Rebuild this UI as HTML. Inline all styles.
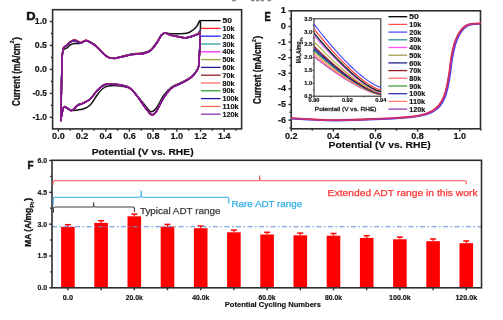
<!DOCTYPE html>
<html><head><meta charset="utf-8"><style>
html,body{margin:0;padding:0;background:#fff;}
svg{display:block;filter:blur(0.3px);}
text{font-family:"Liberation Sans", sans-serif;}
</style></head><body>
<svg width="503" height="320" viewBox="0 0 503 320">
<defs>
<clipPath id="clipD"><rect x="52.6" y="9.7" width="189.0" height="119.2"/></clipPath>
<clipPath id="clipE"><rect x="291.25" y="10.8" width="189.25" height="118.00000000000001"/></clipPath>
<clipPath id="clipI"><rect x="314.0" y="18.8" width="66.80000000000001" height="77.4"/></clipPath>
</defs>
<rect width="503" height="320" fill="#fff"/>
<rect x="52.6" y="9.7" width="189.0" height="119.2" fill="none" stroke="#2e2e2e" stroke-width="1.6"/>
<line x1="58.40" y1="128.90" x2="58.40" y2="131.70" stroke="#2e2e2e" stroke-width="1.4"/>
<text x="58.40" y="139.30" font-size="8.2" font-weight="bold" fill="#111" text-anchor="middle" textLength="12.60" lengthAdjust="spacingAndGlyphs" stroke="#111" stroke-width="0.15">0.0</text>
<line x1="70.24" y1="128.90" x2="70.24" y2="130.70" stroke="#2e2e2e" stroke-width="1.4"/>
<line x1="82.09" y1="128.90" x2="82.09" y2="131.70" stroke="#2e2e2e" stroke-width="1.4"/>
<text x="82.09" y="139.30" font-size="8.2" font-weight="bold" fill="#111" text-anchor="middle" textLength="12.60" lengthAdjust="spacingAndGlyphs" stroke="#111" stroke-width="0.15">0.2</text>
<line x1="93.93" y1="128.90" x2="93.93" y2="130.70" stroke="#2e2e2e" stroke-width="1.4"/>
<line x1="105.77" y1="128.90" x2="105.77" y2="131.70" stroke="#2e2e2e" stroke-width="1.4"/>
<text x="105.77" y="139.30" font-size="8.2" font-weight="bold" fill="#111" text-anchor="middle" textLength="12.60" lengthAdjust="spacingAndGlyphs" stroke="#111" stroke-width="0.15">0.4</text>
<line x1="117.62" y1="128.90" x2="117.62" y2="130.70" stroke="#2e2e2e" stroke-width="1.4"/>
<line x1="129.46" y1="128.90" x2="129.46" y2="131.70" stroke="#2e2e2e" stroke-width="1.4"/>
<text x="129.46" y="139.30" font-size="8.2" font-weight="bold" fill="#111" text-anchor="middle" textLength="12.60" lengthAdjust="spacingAndGlyphs" stroke="#111" stroke-width="0.15">0.6</text>
<line x1="141.30" y1="128.90" x2="141.30" y2="130.70" stroke="#2e2e2e" stroke-width="1.4"/>
<line x1="153.14" y1="128.90" x2="153.14" y2="131.70" stroke="#2e2e2e" stroke-width="1.4"/>
<text x="153.14" y="139.30" font-size="8.2" font-weight="bold" fill="#111" text-anchor="middle" textLength="12.60" lengthAdjust="spacingAndGlyphs" stroke="#111" stroke-width="0.15">0.8</text>
<line x1="164.99" y1="128.90" x2="164.99" y2="130.70" stroke="#2e2e2e" stroke-width="1.4"/>
<line x1="176.83" y1="128.90" x2="176.83" y2="131.70" stroke="#2e2e2e" stroke-width="1.4"/>
<text x="176.83" y="139.30" font-size="8.2" font-weight="bold" fill="#111" text-anchor="middle" textLength="12.60" lengthAdjust="spacingAndGlyphs" stroke="#111" stroke-width="0.15">1.0</text>
<line x1="188.67" y1="128.90" x2="188.67" y2="130.70" stroke="#2e2e2e" stroke-width="1.4"/>
<line x1="200.52" y1="128.90" x2="200.52" y2="131.70" stroke="#2e2e2e" stroke-width="1.4"/>
<text x="200.52" y="139.30" font-size="8.2" font-weight="bold" fill="#111" text-anchor="middle" textLength="12.60" lengthAdjust="spacingAndGlyphs" stroke="#111" stroke-width="0.15">1.2</text>
<line x1="212.36" y1="128.90" x2="212.36" y2="130.70" stroke="#2e2e2e" stroke-width="1.4"/>
<line x1="224.20" y1="128.90" x2="224.20" y2="131.70" stroke="#2e2e2e" stroke-width="1.4"/>
<text x="224.20" y="139.30" font-size="8.2" font-weight="bold" fill="#111" text-anchor="middle" textLength="12.60" lengthAdjust="spacingAndGlyphs" stroke="#111" stroke-width="0.15">1.4</text>
<line x1="236.05" y1="128.90" x2="236.05" y2="130.70" stroke="#2e2e2e" stroke-width="1.4"/>
<line x1="52.60" y1="117.30" x2="49.80" y2="117.30" stroke="#2e2e2e" stroke-width="1.4"/>
<text x="47.00" y="120.20" font-size="8.2" font-weight="bold" fill="#111" text-anchor="end" textLength="14.50" lengthAdjust="spacingAndGlyphs" stroke="#111" stroke-width="0.15">-1.0</text>
<line x1="52.60" y1="105.33" x2="50.80" y2="105.33" stroke="#2e2e2e" stroke-width="1.4"/>
<line x1="52.60" y1="93.35" x2="49.80" y2="93.35" stroke="#2e2e2e" stroke-width="1.4"/>
<text x="47.00" y="96.25" font-size="8.2" font-weight="bold" fill="#111" text-anchor="end" textLength="14.50" lengthAdjust="spacingAndGlyphs" stroke="#111" stroke-width="0.15">-0.5</text>
<line x1="52.60" y1="81.38" x2="50.80" y2="81.38" stroke="#2e2e2e" stroke-width="1.4"/>
<line x1="52.60" y1="69.40" x2="49.80" y2="69.40" stroke="#2e2e2e" stroke-width="1.4"/>
<text x="47.00" y="72.30" font-size="8.2" font-weight="bold" fill="#111" text-anchor="end" textLength="12.20" lengthAdjust="spacingAndGlyphs" stroke="#111" stroke-width="0.15">0.0</text>
<line x1="52.60" y1="57.43" x2="50.80" y2="57.43" stroke="#2e2e2e" stroke-width="1.4"/>
<line x1="52.60" y1="45.45" x2="49.80" y2="45.45" stroke="#2e2e2e" stroke-width="1.4"/>
<text x="47.00" y="48.35" font-size="8.2" font-weight="bold" fill="#111" text-anchor="end" textLength="12.20" lengthAdjust="spacingAndGlyphs" stroke="#111" stroke-width="0.15">0.5</text>
<line x1="52.60" y1="33.48" x2="50.80" y2="33.48" stroke="#2e2e2e" stroke-width="1.4"/>
<line x1="52.60" y1="21.50" x2="49.80" y2="21.50" stroke="#2e2e2e" stroke-width="1.4"/>
<text x="47.00" y="24.40" font-size="8.2" font-weight="bold" fill="#111" text-anchor="end" textLength="12.20" lengthAdjust="spacingAndGlyphs" stroke="#111" stroke-width="0.15">1.0</text>
<text x="91.70" y="154.60" font-size="9.0" font-weight="bold" fill="#111" text-anchor="start" textLength="101.90" lengthAdjust="spacingAndGlyphs" stroke="#111" stroke-width="0.15">Potential (V vs. RHE)</text>
<text x="26.30" y="20.00" font-size="11.4" font-weight="bold" fill="#111" text-anchor="start" textLength="9.30" lengthAdjust="spacingAndGlyphs" stroke="#111" stroke-width="0.5">D</text>
<text transform="translate(19.60,106.00) rotate(-90)" x="0" y="0" font-size="10.2" font-weight="bold" fill="#111" text-anchor="start" textLength="62.60" lengthAdjust="spacingAndGlyphs" stroke="#111" stroke-width="0.3">Current (mA/cm</text>
<text transform="translate(14.40,43.40) rotate(-90)" x="0" y="0" font-size="6.0" font-weight="bold" fill="#111" text-anchor="start" textLength="3.20" lengthAdjust="spacingAndGlyphs" stroke="#111" stroke-width="0.15">2</text>
<text transform="translate(19.60,40.20) rotate(-90)" x="0" y="0" font-size="10.2" font-weight="bold" fill="#111" text-anchor="start" textLength="3.40" lengthAdjust="spacingAndGlyphs" stroke="#111" stroke-width="0.15">)</text>
<line x1="201.00" y1="20.60" x2="220.60" y2="20.60" stroke="#000000" stroke-width="1.3"/>
<text x="222.60" y="23.20" font-size="6.8" font-weight="bold" fill="#111" text-anchor="start" textLength="9.50" lengthAdjust="spacingAndGlyphs" stroke="#111" stroke-width="0.15">50</text>
<line x1="201.00" y1="28.40" x2="220.60" y2="28.40" stroke="#ff2020" stroke-width="1.3"/>
<text x="222.60" y="31.00" font-size="6.8" font-weight="bold" fill="#111" text-anchor="start" textLength="12.00" lengthAdjust="spacingAndGlyphs" stroke="#111" stroke-width="0.15">10k</text>
<line x1="201.00" y1="36.20" x2="220.60" y2="36.20" stroke="#2020ff" stroke-width="1.3"/>
<text x="222.60" y="38.80" font-size="6.8" font-weight="bold" fill="#111" text-anchor="start" textLength="12.00" lengthAdjust="spacingAndGlyphs" stroke="#111" stroke-width="0.15">20k</text>
<line x1="201.00" y1="44.00" x2="220.60" y2="44.00" stroke="#30a0a0" stroke-width="1.3"/>
<text x="222.60" y="46.60" font-size="6.8" font-weight="bold" fill="#111" text-anchor="start" textLength="12.00" lengthAdjust="spacingAndGlyphs" stroke="#111" stroke-width="0.15">30k</text>
<line x1="201.00" y1="51.80" x2="220.60" y2="51.80" stroke="#ff30ff" stroke-width="1.3"/>
<text x="222.60" y="54.40" font-size="6.8" font-weight="bold" fill="#111" text-anchor="start" textLength="12.00" lengthAdjust="spacingAndGlyphs" stroke="#111" stroke-width="0.15">40k</text>
<line x1="201.00" y1="59.60" x2="220.60" y2="59.60" stroke="#a0a040" stroke-width="1.3"/>
<text x="222.60" y="62.20" font-size="6.8" font-weight="bold" fill="#111" text-anchor="start" textLength="12.00" lengthAdjust="spacingAndGlyphs" stroke="#111" stroke-width="0.15">50k</text>
<line x1="201.00" y1="67.40" x2="220.60" y2="67.40" stroke="#202090" stroke-width="1.3"/>
<text x="222.60" y="70.00" font-size="6.8" font-weight="bold" fill="#111" text-anchor="start" textLength="12.00" lengthAdjust="spacingAndGlyphs" stroke="#111" stroke-width="0.15">60k</text>
<line x1="201.00" y1="75.20" x2="220.60" y2="75.20" stroke="#902020" stroke-width="1.3"/>
<text x="222.60" y="77.80" font-size="6.8" font-weight="bold" fill="#111" text-anchor="start" textLength="12.00" lengthAdjust="spacingAndGlyphs" stroke="#111" stroke-width="0.15">70k</text>
<line x1="201.00" y1="83.00" x2="220.60" y2="83.00" stroke="#ff7070" stroke-width="1.3"/>
<text x="222.60" y="85.60" font-size="6.8" font-weight="bold" fill="#111" text-anchor="start" textLength="12.00" lengthAdjust="spacingAndGlyphs" stroke="#111" stroke-width="0.15">80k</text>
<line x1="201.00" y1="90.80" x2="220.60" y2="90.80" stroke="#30a030" stroke-width="1.3"/>
<text x="222.60" y="93.40" font-size="6.8" font-weight="bold" fill="#111" text-anchor="start" textLength="12.00" lengthAdjust="spacingAndGlyphs" stroke="#111" stroke-width="0.15">90k</text>
<line x1="201.00" y1="98.60" x2="220.60" y2="98.60" stroke="#2020a0" stroke-width="1.3"/>
<text x="222.60" y="101.20" font-size="6.8" font-weight="bold" fill="#111" text-anchor="start" textLength="16.00" lengthAdjust="spacingAndGlyphs" stroke="#111" stroke-width="0.15">100k</text>
<line x1="201.00" y1="106.40" x2="220.60" y2="106.40" stroke="#ff7050" stroke-width="1.3"/>
<text x="222.60" y="109.00" font-size="6.8" font-weight="bold" fill="#111" text-anchor="start" textLength="16.00" lengthAdjust="spacingAndGlyphs" stroke="#111" stroke-width="0.15">110k</text>
<line x1="201.00" y1="114.20" x2="220.60" y2="114.20" stroke="#9030b0" stroke-width="1.3"/>
<text x="222.60" y="116.80" font-size="6.8" font-weight="bold" fill="#111" text-anchor="start" textLength="16.00" lengthAdjust="spacingAndGlyphs" stroke="#111" stroke-width="0.15">120k</text>
<g clip-path="url(#clipD)">
<path d="M61.00,118.00 C61.05,115.00 61.18,107.67 61.30,100.00 C61.42,92.33 61.52,79.50 61.70,72.00 C61.88,64.50 62.05,58.75 62.40,55.00 C62.75,51.25 63.03,50.67 63.80,49.50 C64.57,48.33 65.97,48.75 67.00,48.00 C68.03,47.25 68.78,45.75 70.00,45.00 C71.22,44.25 72.97,43.73 74.30,43.50 C75.63,43.27 76.92,43.68 78.00,43.60 C79.08,43.52 79.80,43.35 80.80,43.00 C81.80,42.65 83.10,41.88 84.00,41.50 C84.90,41.12 85.20,40.57 86.20,40.70 C87.20,40.83 88.70,41.62 90.00,42.30 C91.30,42.98 92.83,43.95 94.00,44.80 C95.17,45.65 96.00,46.50 97.00,47.40 C98.00,48.30 98.97,49.17 100.00,50.20 C101.03,51.23 101.87,52.40 103.20,53.60 C104.53,54.80 106.53,56.62 108.00,57.40 C109.47,58.18 110.68,58.17 112.00,58.30 C113.32,58.43 113.90,58.62 115.90,58.20 C117.90,57.78 121.35,56.50 124.00,55.80 C126.65,55.10 129.47,54.40 131.80,54.00 C134.13,53.60 135.88,53.65 138.00,53.40 C140.12,53.15 142.35,53.15 144.50,52.50 C146.65,51.85 148.78,51.33 150.90,49.50 C153.02,47.67 155.48,43.92 157.20,41.50 C158.92,39.08 159.87,36.38 161.20,35.00 C162.53,33.62 163.73,33.43 165.20,33.20 C166.67,32.97 167.62,33.50 170.00,33.60 C172.38,33.70 176.55,33.90 179.50,33.80 C182.45,33.70 185.45,33.63 187.70,33.00 C189.95,32.37 191.45,31.17 193.00,30.00 C194.55,28.83 195.77,27.45 197.00,26.00 C198.23,24.55 199.93,18.13 200.40,21.30 C200.87,24.47 200.03,38.05 199.80,45.00 C199.57,51.95 199.38,59.00 199.00,63.00 C198.62,67.00 198.75,66.75 197.50,69.00 C196.25,71.25 194.17,74.25 191.50,76.50 C188.83,78.75 184.82,80.75 181.50,82.50 C178.18,84.25 174.58,84.83 171.60,87.00 C168.62,89.17 166.08,92.08 163.60,95.50 C161.12,98.92 158.80,104.78 156.70,107.50 C154.60,110.22 153.00,112.22 151.00,111.80 C149.00,111.38 146.90,107.55 144.70,105.00 C142.50,102.45 140.28,99.25 137.80,96.50 C135.32,93.75 132.78,90.25 129.80,88.50 C126.82,86.75 123.47,86.42 119.90,86.00 C116.33,85.58 111.25,85.58 108.40,86.00 C105.55,86.42 104.67,87.00 102.80,88.50 C100.93,90.00 99.30,92.25 97.20,95.00 C95.10,97.75 92.55,102.67 90.20,105.00 C87.85,107.33 85.22,108.17 83.10,109.00 C80.98,109.83 79.13,109.75 77.50,110.00 C75.87,110.25 74.47,110.42 73.30,110.50 C72.13,110.58 71.67,110.95 70.50,110.50 C69.33,110.05 67.37,108.35 66.30,107.80 C65.23,107.25 64.70,106.80 64.10,107.20 C63.50,107.60 63.13,108.73 62.70,110.20 C62.27,111.67 61.78,114.70 61.50,116.00 C61.22,117.30 61.08,117.67 61.00,118.00" fill="none" stroke="#111" stroke-width="1.5" stroke-linejoin="round" stroke-linecap="round" />
<path d="M61.00,120.25 C61.05,116.83 61.18,107.83 61.30,99.75 C61.42,91.67 61.52,79.42 61.70,71.75 C61.88,64.08 62.10,57.75 62.40,53.75 C62.70,49.75 62.82,49.17 63.50,47.75 C64.18,46.33 65.42,46.25 66.50,45.25 C67.58,44.25 68.70,42.70 70.00,41.75 C71.30,40.80 73.00,39.67 74.30,39.55 C75.60,39.43 76.72,40.58 77.80,41.05 C78.88,41.52 79.77,42.40 80.80,42.35 C81.83,42.30 83.10,41.12 84.00,40.75 C84.90,40.38 85.20,39.98 86.20,40.15 C87.20,40.32 88.70,41.08 90.00,41.75 C91.30,42.42 92.83,43.32 94.00,44.15 C95.17,44.98 96.00,45.85 97.00,46.75 C98.00,47.65 98.97,48.50 100.00,49.55 C101.03,50.60 101.87,51.82 103.20,53.05 C104.53,54.28 106.53,56.15 108.00,56.95 C109.47,57.75 110.68,57.72 112.00,57.85 C113.32,57.98 113.90,58.07 115.90,57.75 C117.90,57.43 121.35,56.55 124.00,55.95 C126.65,55.35 129.47,54.53 131.80,54.15 C134.13,53.77 135.88,53.85 138.00,53.65 C140.12,53.45 142.35,53.57 144.50,52.95 C146.65,52.33 148.78,51.77 150.90,49.95 C153.02,48.13 155.48,44.52 157.20,42.05 C158.92,39.58 159.87,36.72 161.20,35.15 C162.53,33.58 163.73,32.73 165.20,32.65 C166.67,32.57 167.62,34.00 170.00,34.65 C172.38,35.30 176.88,36.07 179.50,36.55 C182.12,37.03 183.62,37.65 185.70,37.55 C187.78,37.45 189.95,36.64 192.00,35.95 C194.05,35.26 196.62,34.20 198.00,33.40 C199.38,32.60 200.02,28.76 200.30,31.15 C200.58,33.54 199.93,42.32 199.70,47.75 C199.47,53.18 199.27,60.17 198.90,63.75 C198.53,67.33 198.73,67.08 197.50,69.25 C196.27,71.42 194.17,74.50 191.50,76.75 C188.83,79.00 184.82,80.93 181.50,82.75 C178.18,84.57 174.58,85.17 171.60,87.65 C168.62,90.13 166.08,93.83 163.60,97.65 C161.12,101.47 158.68,107.73 156.70,110.55 C154.72,113.37 153.70,115.22 151.70,114.55 C149.70,113.88 147.02,109.53 144.70,106.55 C142.38,103.57 140.28,99.80 137.80,96.65 C135.32,93.50 132.78,89.65 129.80,87.65 C126.82,85.65 123.47,85.32 119.90,84.65 C116.33,83.98 111.25,83.53 108.40,83.65 C105.55,83.77 104.67,84.25 102.80,85.35 C100.93,86.45 99.30,88.02 97.20,90.25 C95.10,92.48 92.55,96.63 90.20,98.75 C87.85,100.87 85.22,101.90 83.10,102.95 C80.98,104.00 79.13,104.00 77.50,105.05 C75.87,106.10 74.47,108.43 73.30,109.25 C72.13,110.07 71.67,110.30 70.50,109.95 C69.33,109.60 67.37,107.73 66.30,107.15 C65.23,106.57 64.70,105.98 64.10,106.45 C63.50,106.92 63.13,108.40 62.70,109.95 C62.27,111.50 61.78,114.03 61.50,115.75 C61.22,117.47 61.08,119.50 61.00,120.25" fill="none" stroke="#ff1010" stroke-width="1.35" stroke-linejoin="round" stroke-linecap="round" />
<path d="M61.00,120.31 C61.05,116.89 61.18,107.89 61.30,99.81 C61.42,91.73 61.52,79.48 61.70,71.82 C61.88,64.15 62.10,57.82 62.40,53.82 C62.70,49.83 62.82,49.24 63.50,47.84 C64.18,46.45 65.42,46.39 66.50,45.46 C67.58,44.53 68.70,43.10 70.00,42.28 C71.30,41.46 73.00,40.58 74.30,40.54 C75.60,40.50 76.72,41.62 77.80,42.04 C78.88,42.45 79.77,43.19 80.80,43.02 C81.83,42.86 83.10,41.52 84.00,41.07 C84.90,40.62 85.20,40.20 86.20,40.32 C87.20,40.44 88.70,41.17 90.00,41.82 C91.30,42.47 92.83,43.37 94.00,44.20 C95.17,45.03 96.00,45.90 97.00,46.80 C98.00,47.70 98.97,48.55 100.00,49.60 C101.03,50.65 101.87,51.87 103.20,53.10 C104.53,54.33 106.53,56.20 108.00,57.00 C109.47,57.80 110.68,57.77 112.00,57.90 C113.32,58.03 113.90,58.12 115.90,57.80 C117.90,57.48 121.35,56.60 124.00,56.00 C126.65,55.40 129.47,54.58 131.80,54.20 C134.13,53.82 135.88,53.90 138.00,53.70 C140.12,53.50 142.35,53.62 144.50,53.00 C146.65,52.38 148.78,51.82 150.90,50.00 C153.02,48.18 155.48,44.57 157.20,42.10 C158.92,39.63 159.87,36.77 161.20,35.20 C162.53,33.63 163.73,32.78 165.20,32.70 C166.67,32.62 167.62,34.05 170.00,34.70 C172.38,35.35 176.88,36.12 179.50,36.60 C182.12,37.08 183.62,37.70 185.70,37.60 C187.78,37.50 189.95,36.68 192.00,36.00 C194.05,35.32 196.62,34.25 198.00,33.50 C199.38,32.75 200.02,29.12 200.30,31.50 C200.58,33.88 199.93,42.42 199.70,47.80 C199.47,53.18 199.27,60.22 198.90,63.80 C198.53,67.38 198.73,67.13 197.50,69.30 C196.27,71.47 194.17,74.55 191.50,76.80 C188.83,79.05 184.82,80.98 181.50,82.80 C178.18,84.62 174.58,85.22 171.60,87.70 C168.62,90.18 166.08,93.88 163.60,97.70 C161.12,101.52 158.68,107.78 156.70,110.60 C154.72,113.42 153.70,115.27 151.70,114.60 C149.70,113.93 147.02,109.58 144.70,106.60 C142.38,103.62 140.28,99.85 137.80,96.70 C135.32,93.55 132.78,89.70 129.80,87.70 C126.82,85.70 123.47,85.37 119.90,84.70 C116.33,84.03 111.25,83.58 108.40,83.70 C105.55,83.82 104.67,84.30 102.80,85.40 C100.93,86.50 99.30,88.07 97.20,90.30 C95.10,92.53 92.55,96.68 90.20,98.80 C87.85,100.92 85.22,101.95 83.10,103.00 C80.98,104.05 79.13,104.05 77.50,105.10 C75.87,106.15 74.47,108.48 73.30,109.30 C72.13,110.12 71.67,110.35 70.50,110.00 C69.33,109.65 67.37,107.78 66.30,107.20 C65.23,106.62 64.70,106.03 64.10,106.50 C63.50,106.97 63.13,108.45 62.70,110.00 C62.27,111.55 61.78,114.08 61.50,115.80 C61.22,117.52 61.08,119.55 61.00,120.30" fill="none" stroke="#1010ff" stroke-width="1.35" stroke-linejoin="round" stroke-linecap="round" />
<path d="M61.00,120.36 C61.05,116.95 61.18,107.95 61.30,99.87 C61.42,91.78 61.52,79.53 61.70,71.87 C61.88,64.21 62.10,57.87 62.40,53.88 C62.70,49.89 62.82,49.29 63.50,47.90 C64.18,46.52 65.42,46.46 66.50,45.56 C67.58,44.65 68.70,43.25 70.00,42.47 C71.30,41.69 73.00,40.89 74.30,40.88 C75.60,40.86 76.72,41.97 77.80,42.37 C78.88,42.76 79.77,43.46 80.80,43.26 C81.83,43.07 83.10,41.68 84.00,41.20 C84.90,40.73 85.20,40.29 86.20,40.41 C87.20,40.52 88.70,41.23 90.00,41.87 C91.30,42.51 92.83,43.42 94.00,44.25 C95.17,45.08 96.00,45.95 97.00,46.85 C98.00,47.75 98.97,48.60 100.00,49.65 C101.03,50.70 101.87,51.92 103.20,53.15 C104.53,54.38 106.53,56.25 108.00,57.05 C109.47,57.85 110.68,57.82 112.00,57.95 C113.32,58.08 113.90,58.17 115.90,57.85 C117.90,57.53 121.35,56.65 124.00,56.05 C126.65,55.45 129.47,54.63 131.80,54.25 C134.13,53.87 135.88,53.95 138.00,53.75 C140.12,53.55 142.35,53.67 144.50,53.05 C146.65,52.43 148.78,51.87 150.90,50.05 C153.02,48.23 155.48,44.62 157.20,42.15 C158.92,39.68 159.87,36.82 161.20,35.25 C162.53,33.68 163.73,32.83 165.20,32.75 C166.67,32.67 167.62,34.10 170.00,34.75 C172.38,35.40 176.88,36.17 179.50,36.65 C182.12,37.13 183.62,37.75 185.70,37.65 C187.78,37.55 189.95,36.73 192.00,36.05 C194.05,35.38 196.62,34.30 198.00,33.60 C199.38,32.90 200.02,29.48 200.30,31.85 C200.58,34.23 199.93,42.52 199.70,47.85 C199.47,53.18 199.27,60.27 198.90,63.85 C198.53,67.43 198.73,67.18 197.50,69.35 C196.27,71.52 194.17,74.60 191.50,76.85 C188.83,79.10 184.82,81.03 181.50,82.85 C178.18,84.67 174.58,85.27 171.60,87.75 C168.62,90.23 166.08,93.93 163.60,97.75 C161.12,101.57 158.68,107.83 156.70,110.65 C154.72,113.47 153.70,115.32 151.70,114.65 C149.70,113.98 147.02,109.63 144.70,106.65 C142.38,103.67 140.28,99.90 137.80,96.75 C135.32,93.60 132.78,89.75 129.80,87.75 C126.82,85.75 123.47,85.42 119.90,84.75 C116.33,84.08 111.25,83.63 108.40,83.75 C105.55,83.87 104.67,84.35 102.80,85.45 C100.93,86.55 99.30,88.12 97.20,90.35 C95.10,92.58 92.55,96.73 90.20,98.85 C87.85,100.97 85.22,102.00 83.10,103.05 C80.98,104.10 79.13,104.10 77.50,105.15 C75.87,106.20 74.47,108.53 73.30,109.35 C72.13,110.17 71.67,110.40 70.50,110.05 C69.33,109.70 67.37,107.83 66.30,107.25 C65.23,106.67 64.70,106.08 64.10,106.55 C63.50,107.02 63.13,108.50 62.70,110.05 C62.27,111.60 61.78,114.13 61.50,115.85 C61.22,117.57 61.08,119.60 61.00,120.35" fill="none" stroke="#209090" stroke-width="1.35" stroke-linejoin="round" stroke-linecap="round" />
<path d="M61.00,120.40 C61.05,116.98 61.18,107.98 61.30,99.90 C61.42,91.82 61.52,79.57 61.70,71.90 C61.88,64.23 62.10,57.90 62.40,53.90 C62.70,49.90 62.82,49.32 63.50,47.90 C64.18,46.48 65.42,46.40 66.50,45.40 C67.58,44.40 68.70,42.85 70.00,41.90 C71.30,40.95 73.00,39.82 74.30,39.70 C75.60,39.58 76.72,40.73 77.80,41.20 C78.88,41.67 79.77,42.55 80.80,42.50 C81.83,42.45 83.10,41.27 84.00,40.90 C84.90,40.53 85.20,40.13 86.20,40.30 C87.20,40.47 88.70,41.23 90.00,41.90 C91.30,42.57 92.83,43.47 94.00,44.30 C95.17,45.13 96.00,46.00 97.00,46.90 C98.00,47.80 98.97,48.65 100.00,49.70 C101.03,50.75 101.87,51.97 103.20,53.20 C104.53,54.43 106.53,56.30 108.00,57.10 C109.47,57.90 110.68,57.87 112.00,58.00 C113.32,58.13 113.90,58.22 115.90,57.90 C117.90,57.58 121.35,56.70 124.00,56.10 C126.65,55.50 129.47,54.68 131.80,54.30 C134.13,53.92 135.88,54.00 138.00,53.80 C140.12,53.60 142.35,53.72 144.50,53.10 C146.65,52.48 148.78,51.92 150.90,50.10 C153.02,48.28 155.48,44.67 157.20,42.20 C158.92,39.73 159.87,36.87 161.20,35.30 C162.53,33.73 163.73,32.88 165.20,32.80 C166.67,32.72 167.62,34.15 170.00,34.80 C172.38,35.45 176.88,36.22 179.50,36.70 C182.12,37.18 183.62,37.80 185.70,37.70 C187.78,37.60 189.95,36.77 192.00,36.10 C194.05,35.43 196.62,34.35 198.00,33.70 C199.38,33.05 200.02,29.83 200.30,32.20 C200.58,34.57 199.93,42.62 199.70,47.90 C199.47,53.18 199.27,60.32 198.90,63.90 C198.53,67.48 198.73,67.23 197.50,69.40 C196.27,71.57 194.17,74.65 191.50,76.90 C188.83,79.15 184.82,81.08 181.50,82.90 C178.18,84.72 174.58,85.32 171.60,87.80 C168.62,90.28 166.08,93.98 163.60,97.80 C161.12,101.62 158.68,107.88 156.70,110.70 C154.72,113.52 153.70,115.37 151.70,114.70 C149.70,114.03 147.02,109.68 144.70,106.70 C142.38,103.72 140.28,99.95 137.80,96.80 C135.32,93.65 132.78,89.80 129.80,87.80 C126.82,85.80 123.47,85.47 119.90,84.80 C116.33,84.13 111.25,83.68 108.40,83.80 C105.55,83.92 104.67,84.40 102.80,85.50 C100.93,86.60 99.30,88.17 97.20,90.40 C95.10,92.63 92.55,96.78 90.20,98.90 C87.85,101.02 85.22,102.05 83.10,103.10 C80.98,104.15 79.13,104.15 77.50,105.20 C75.87,106.25 74.47,108.58 73.30,109.40 C72.13,110.22 71.67,110.45 70.50,110.10 C69.33,109.75 67.37,107.88 66.30,107.30 C65.23,106.72 64.70,106.13 64.10,106.60 C63.50,107.07 63.13,108.55 62.70,110.10 C62.27,111.65 61.78,114.18 61.50,115.90 C61.22,117.62 61.08,119.65 61.00,120.40" fill="none" stroke="#ff20ff" stroke-width="1.35" stroke-linejoin="round" stroke-linecap="round" />
<path d="M61.00,120.45 C61.05,117.03 61.18,108.03 61.30,99.95 C61.42,91.87 61.52,79.62 61.70,71.95 C61.88,64.28 62.10,57.95 62.40,53.95 C62.70,49.95 62.82,49.37 63.50,47.95 C64.18,46.53 65.42,46.45 66.50,45.45 C67.58,44.45 68.70,42.90 70.00,41.95 C71.30,41.00 73.00,39.87 74.30,39.75 C75.60,39.63 76.72,40.78 77.80,41.25 C78.88,41.72 79.77,42.60 80.80,42.55 C81.83,42.50 83.10,41.32 84.00,40.95 C84.90,40.58 85.20,40.18 86.20,40.35 C87.20,40.52 88.70,41.28 90.00,41.95 C91.30,42.62 92.83,43.52 94.00,44.35 C95.17,45.18 96.00,46.05 97.00,46.95 C98.00,47.85 98.97,48.70 100.00,49.75 C101.03,50.80 101.87,52.02 103.20,53.25 C104.53,54.48 106.53,56.35 108.00,57.15 C109.47,57.95 110.68,57.92 112.00,58.05 C113.32,58.18 113.90,58.27 115.90,57.95 C117.90,57.63 121.35,56.75 124.00,56.15 C126.65,55.55 129.47,54.73 131.80,54.35 C134.13,53.97 135.88,54.05 138.00,53.85 C140.12,53.65 142.35,53.77 144.50,53.15 C146.65,52.53 148.78,51.97 150.90,50.15 C153.02,48.33 155.48,44.72 157.20,42.25 C158.92,39.78 159.87,36.92 161.20,35.35 C162.53,33.78 163.73,32.93 165.20,32.85 C166.67,32.77 167.62,34.20 170.00,34.85 C172.38,35.50 176.88,36.27 179.50,36.75 C182.12,37.23 183.62,37.85 185.70,37.75 C187.78,37.65 189.95,36.81 192.00,36.15 C194.05,35.49 196.62,34.40 198.00,33.80 C199.38,33.20 200.02,30.19 200.30,32.55 C200.58,34.91 199.93,42.72 199.70,47.95 C199.47,53.18 199.27,60.37 198.90,63.95 C198.53,67.53 198.73,67.28 197.50,69.45 C196.27,71.62 194.17,74.70 191.50,76.95 C188.83,79.20 184.82,81.13 181.50,82.95 C178.18,84.77 174.58,85.37 171.60,87.85 C168.62,90.33 166.08,94.03 163.60,97.85 C161.12,101.67 158.68,107.93 156.70,110.75 C154.72,113.57 153.70,115.42 151.70,114.75 C149.70,114.08 147.02,109.73 144.70,106.75 C142.38,103.77 140.28,100.00 137.80,96.85 C135.32,93.70 132.78,89.85 129.80,87.85 C126.82,85.85 123.47,85.52 119.90,84.85 C116.33,84.18 111.25,83.73 108.40,83.85 C105.55,83.97 104.67,84.45 102.80,85.55 C100.93,86.65 99.30,88.22 97.20,90.45 C95.10,92.68 92.55,96.83 90.20,98.95 C87.85,101.07 85.22,102.10 83.10,103.15 C80.98,104.20 79.13,104.20 77.50,105.25 C75.87,106.30 74.47,108.63 73.30,109.45 C72.13,110.27 71.67,110.50 70.50,110.15 C69.33,109.80 67.37,107.93 66.30,107.35 C65.23,106.77 64.70,106.18 64.10,106.65 C63.50,107.12 63.13,108.60 62.70,110.15 C62.27,111.70 61.78,114.23 61.50,115.95 C61.22,117.67 61.08,119.70 61.00,120.45" fill="none" stroke="#909020" stroke-width="1.35" stroke-linejoin="round" stroke-linecap="round" />
<path d="M61.00,120.51 C61.05,117.09 61.18,108.09 61.30,100.01 C61.42,91.93 61.52,79.68 61.70,72.01 C61.88,64.35 62.10,58.01 62.40,54.02 C62.70,50.02 62.82,49.43 63.50,48.03 C64.18,46.63 65.42,46.57 66.50,45.63 C67.58,44.69 68.70,43.23 70.00,42.38 C71.30,41.54 73.00,40.61 74.30,40.55 C75.60,40.50 76.72,41.62 77.80,42.05 C78.88,42.47 79.77,43.24 80.80,43.10 C81.83,42.96 83.10,41.65 84.00,41.22 C84.90,40.78 85.20,40.36 86.20,40.50 C87.20,40.63 88.70,41.36 90.00,42.01 C91.30,42.67 92.83,43.57 94.00,44.40 C95.17,45.23 96.00,46.10 97.00,47.00 C98.00,47.90 98.97,48.75 100.00,49.80 C101.03,50.85 101.87,52.07 103.20,53.30 C104.53,54.53 106.53,56.40 108.00,57.20 C109.47,58.00 110.68,57.97 112.00,58.10 C113.32,58.23 113.90,58.32 115.90,58.00 C117.90,57.68 121.35,56.80 124.00,56.20 C126.65,55.60 129.47,54.78 131.80,54.40 C134.13,54.02 135.88,54.10 138.00,53.90 C140.12,53.70 142.35,53.82 144.50,53.20 C146.65,52.58 148.78,52.02 150.90,50.20 C153.02,48.38 155.48,44.77 157.20,42.30 C158.92,39.83 159.87,36.97 161.20,35.40 C162.53,33.83 163.73,32.98 165.20,32.90 C166.67,32.82 167.62,34.25 170.00,34.90 C172.38,35.55 176.88,36.32 179.50,36.80 C182.12,37.28 183.62,37.90 185.70,37.80 C187.78,37.70 189.95,36.85 192.00,36.20 C194.05,35.55 196.62,34.45 198.00,33.90 C199.38,33.35 200.02,30.55 200.30,32.90 C200.58,35.25 199.93,42.82 199.70,48.00 C199.47,53.18 199.27,60.42 198.90,64.00 C198.53,67.58 198.73,67.33 197.50,69.50 C196.27,71.67 194.17,74.75 191.50,77.00 C188.83,79.25 184.82,81.18 181.50,83.00 C178.18,84.82 174.58,85.42 171.60,87.90 C168.62,90.38 166.08,94.08 163.60,97.90 C161.12,101.72 158.68,107.98 156.70,110.80 C154.72,113.62 153.70,115.47 151.70,114.80 C149.70,114.13 147.02,109.78 144.70,106.80 C142.38,103.82 140.28,100.05 137.80,96.90 C135.32,93.75 132.78,89.90 129.80,87.90 C126.82,85.90 123.47,85.57 119.90,84.90 C116.33,84.23 111.25,83.78 108.40,83.90 C105.55,84.02 104.67,84.50 102.80,85.60 C100.93,86.70 99.30,88.27 97.20,90.50 C95.10,92.73 92.55,96.88 90.20,99.00 C87.85,101.12 85.22,102.15 83.10,103.20 C80.98,104.25 79.13,104.25 77.50,105.30 C75.87,106.35 74.47,108.68 73.30,109.50 C72.13,110.32 71.67,110.55 70.50,110.20 C69.33,109.85 67.37,107.98 66.30,107.40 C65.23,106.82 64.70,106.23 64.10,106.70 C63.50,107.17 63.13,108.65 62.70,110.20 C62.27,111.75 61.78,114.28 61.50,116.00 C61.22,117.72 61.08,119.75 61.00,120.50" fill="none" stroke="#101080" stroke-width="1.35" stroke-linejoin="round" stroke-linecap="round" />
<path d="M61.00,120.55 C61.05,117.13 61.18,108.13 61.30,100.05 C61.42,91.97 61.52,79.72 61.70,72.05 C61.88,64.38 62.10,58.05 62.40,54.05 C62.70,50.05 62.82,49.47 63.50,48.05 C64.18,46.63 65.42,46.55 66.50,45.55 C67.58,44.55 68.70,43.00 70.00,42.05 C71.30,41.10 73.00,39.97 74.30,39.85 C75.60,39.73 76.72,40.88 77.80,41.35 C78.88,41.82 79.77,42.70 80.80,42.65 C81.83,42.60 83.10,41.42 84.00,41.05 C84.90,40.68 85.20,40.28 86.20,40.45 C87.20,40.62 88.70,41.38 90.00,42.05 C91.30,42.72 92.83,43.62 94.00,44.45 C95.17,45.28 96.00,46.15 97.00,47.05 C98.00,47.95 98.97,48.80 100.00,49.85 C101.03,50.90 101.87,52.12 103.20,53.35 C104.53,54.58 106.53,56.45 108.00,57.25 C109.47,58.05 110.68,58.02 112.00,58.15 C113.32,58.28 113.90,58.37 115.90,58.05 C117.90,57.73 121.35,56.85 124.00,56.25 C126.65,55.65 129.47,54.83 131.80,54.45 C134.13,54.07 135.88,54.15 138.00,53.95 C140.12,53.75 142.35,53.87 144.50,53.25 C146.65,52.63 148.78,52.07 150.90,50.25 C153.02,48.43 155.48,44.82 157.20,42.35 C158.92,39.88 159.87,37.02 161.20,35.45 C162.53,33.88 163.73,33.03 165.20,32.95 C166.67,32.87 167.62,34.30 170.00,34.95 C172.38,35.60 176.88,36.37 179.50,36.85 C182.12,37.33 183.62,37.95 185.70,37.85 C187.78,37.75 189.95,36.89 192.00,36.25 C194.05,35.61 196.62,34.50 198.00,34.00 C199.38,33.50 200.02,30.91 200.30,33.25 C200.58,35.59 199.93,42.92 199.70,48.05 C199.47,53.18 199.27,60.47 198.90,64.05 C198.53,67.63 198.73,67.38 197.50,69.55 C196.27,71.72 194.17,74.80 191.50,77.05 C188.83,79.30 184.82,81.23 181.50,83.05 C178.18,84.87 174.58,85.47 171.60,87.95 C168.62,90.43 166.08,94.13 163.60,97.95 C161.12,101.77 158.68,108.03 156.70,110.85 C154.72,113.67 153.70,115.52 151.70,114.85 C149.70,114.18 147.02,109.83 144.70,106.85 C142.38,103.87 140.28,100.10 137.80,96.95 C135.32,93.80 132.78,89.95 129.80,87.95 C126.82,85.95 123.47,85.62 119.90,84.95 C116.33,84.28 111.25,83.83 108.40,83.95 C105.55,84.07 104.67,84.55 102.80,85.65 C100.93,86.75 99.30,88.32 97.20,90.55 C95.10,92.78 92.55,96.93 90.20,99.05 C87.85,101.17 85.22,102.20 83.10,103.25 C80.98,104.30 79.13,104.30 77.50,105.35 C75.87,106.40 74.47,108.73 73.30,109.55 C72.13,110.37 71.67,110.60 70.50,110.25 C69.33,109.90 67.37,108.03 66.30,107.45 C65.23,106.87 64.70,106.28 64.10,106.75 C63.50,107.22 63.13,108.70 62.70,110.25 C62.27,111.80 61.78,114.33 61.50,116.05 C61.22,117.77 61.08,119.80 61.00,120.55" fill="none" stroke="#801010" stroke-width="1.35" stroke-linejoin="round" stroke-linecap="round" />
<path d="M61.00,120.60 C61.05,117.18 61.18,108.18 61.30,100.10 C61.42,92.02 61.52,79.77 61.70,72.10 C61.88,64.43 62.10,58.10 62.40,54.10 C62.70,50.10 62.82,49.52 63.50,48.10 C64.18,46.68 65.42,46.60 66.50,45.60 C67.58,44.60 68.70,43.05 70.00,42.10 C71.30,41.15 73.00,40.02 74.30,39.90 C75.60,39.78 76.72,40.93 77.80,41.40 C78.88,41.87 79.77,42.75 80.80,42.70 C81.83,42.65 83.10,41.47 84.00,41.10 C84.90,40.73 85.20,40.33 86.20,40.50 C87.20,40.67 88.70,41.43 90.00,42.10 C91.30,42.77 92.83,43.67 94.00,44.50 C95.17,45.33 96.00,46.20 97.00,47.10 C98.00,48.00 98.97,48.85 100.00,49.90 C101.03,50.95 101.87,52.17 103.20,53.40 C104.53,54.63 106.53,56.50 108.00,57.30 C109.47,58.10 110.68,58.07 112.00,58.20 C113.32,58.33 113.90,58.42 115.90,58.10 C117.90,57.78 121.35,56.90 124.00,56.30 C126.65,55.70 129.47,54.88 131.80,54.50 C134.13,54.12 135.88,54.20 138.00,54.00 C140.12,53.80 142.35,53.92 144.50,53.30 C146.65,52.68 148.78,52.12 150.90,50.30 C153.02,48.48 155.48,44.87 157.20,42.40 C158.92,39.93 159.87,37.07 161.20,35.50 C162.53,33.93 163.73,33.08 165.20,33.00 C166.67,32.92 167.62,34.35 170.00,35.00 C172.38,35.65 176.88,36.42 179.50,36.90 C182.12,37.38 183.62,38.00 185.70,37.90 C187.78,37.80 189.95,36.93 192.00,36.30 C194.05,35.67 196.62,34.55 198.00,34.10 C199.38,33.65 200.02,31.27 200.30,33.60 C200.58,35.93 199.93,43.02 199.70,48.10 C199.47,53.18 199.27,60.52 198.90,64.10 C198.53,67.68 198.73,67.43 197.50,69.60 C196.27,71.77 194.17,74.85 191.50,77.10 C188.83,79.35 184.82,81.28 181.50,83.10 C178.18,84.92 174.58,85.52 171.60,88.00 C168.62,90.48 166.08,94.18 163.60,98.00 C161.12,101.82 158.68,108.08 156.70,110.90 C154.72,113.72 153.70,115.57 151.70,114.90 C149.70,114.23 147.02,109.88 144.70,106.90 C142.38,103.92 140.28,100.15 137.80,97.00 C135.32,93.85 132.78,90.00 129.80,88.00 C126.82,86.00 123.47,85.67 119.90,85.00 C116.33,84.33 111.25,83.88 108.40,84.00 C105.55,84.12 104.67,84.60 102.80,85.70 C100.93,86.80 99.30,88.37 97.20,90.60 C95.10,92.83 92.55,96.98 90.20,99.10 C87.85,101.22 85.22,102.25 83.10,103.30 C80.98,104.35 79.13,104.35 77.50,105.40 C75.87,106.45 74.47,108.78 73.30,109.60 C72.13,110.42 71.67,110.65 70.50,110.30 C69.33,109.95 67.37,108.08 66.30,107.50 C65.23,106.92 64.70,106.33 64.10,106.80 C63.50,107.27 63.13,108.75 62.70,110.30 C62.27,111.85 61.78,114.38 61.50,116.10 C61.22,117.82 61.08,119.85 61.00,120.60" fill="none" stroke="#ff5070" stroke-width="1.35" stroke-linejoin="round" stroke-linecap="round" />
<path d="M61.00,120.65 C61.05,117.23 61.18,108.23 61.30,100.15 C61.42,92.07 61.52,79.82 61.70,72.15 C61.88,64.48 62.10,58.15 62.40,54.15 C62.70,50.15 62.82,49.57 63.50,48.15 C64.18,46.73 65.42,46.65 66.50,45.65 C67.58,44.65 68.70,43.10 70.00,42.15 C71.30,41.20 73.00,40.07 74.30,39.95 C75.60,39.83 76.72,40.98 77.80,41.45 C78.88,41.92 79.77,42.80 80.80,42.75 C81.83,42.70 83.10,41.52 84.00,41.15 C84.90,40.78 85.20,40.38 86.20,40.55 C87.20,40.72 88.70,41.48 90.00,42.15 C91.30,42.82 92.83,43.72 94.00,44.55 C95.17,45.38 96.00,46.25 97.00,47.15 C98.00,48.05 98.97,48.90 100.00,49.95 C101.03,51.00 101.87,52.22 103.20,53.45 C104.53,54.68 106.53,56.55 108.00,57.35 C109.47,58.15 110.68,58.12 112.00,58.25 C113.32,58.38 113.90,58.47 115.90,58.15 C117.90,57.83 121.35,56.95 124.00,56.35 C126.65,55.75 129.47,54.93 131.80,54.55 C134.13,54.17 135.88,54.25 138.00,54.05 C140.12,53.85 142.35,53.97 144.50,53.35 C146.65,52.73 148.78,52.17 150.90,50.35 C153.02,48.53 155.48,44.92 157.20,42.45 C158.92,39.98 159.87,37.12 161.20,35.55 C162.53,33.98 163.73,33.13 165.20,33.05 C166.67,32.97 167.62,34.40 170.00,35.05 C172.38,35.70 176.88,36.47 179.50,36.95 C182.12,37.43 183.62,38.05 185.70,37.95 C187.78,37.85 189.95,36.98 192.00,36.35 C194.05,35.73 196.62,34.60 198.00,34.20 C199.38,33.80 200.02,31.63 200.30,33.95 C200.58,36.28 199.93,43.12 199.70,48.15 C199.47,53.18 199.27,60.57 198.90,64.15 C198.53,67.73 198.73,67.48 197.50,69.65 C196.27,71.82 194.17,74.90 191.50,77.15 C188.83,79.40 184.82,81.33 181.50,83.15 C178.18,84.97 174.58,85.57 171.60,88.05 C168.62,90.53 166.08,94.23 163.60,98.05 C161.12,101.87 158.68,108.13 156.70,110.95 C154.72,113.77 153.70,115.62 151.70,114.95 C149.70,114.28 147.02,109.93 144.70,106.95 C142.38,103.97 140.28,100.20 137.80,97.05 C135.32,93.90 132.78,90.05 129.80,88.05 C126.82,86.05 123.47,85.72 119.90,85.05 C116.33,84.38 111.25,83.93 108.40,84.05 C105.55,84.17 104.67,84.65 102.80,85.75 C100.93,86.85 99.30,88.42 97.20,90.65 C95.10,92.88 92.55,97.03 90.20,99.15 C87.85,101.27 85.22,102.30 83.10,103.35 C80.98,104.40 79.13,104.40 77.50,105.45 C75.87,106.50 74.47,108.83 73.30,109.65 C72.13,110.47 71.67,110.70 70.50,110.35 C69.33,110.00 67.37,108.13 66.30,107.55 C65.23,106.97 64.70,106.38 64.10,106.85 C63.50,107.32 63.13,108.80 62.70,110.35 C62.27,111.90 61.78,114.43 61.50,116.15 C61.22,117.87 61.08,119.90 61.00,120.65" fill="none" stroke="#209020" stroke-width="1.35" stroke-linejoin="round" stroke-linecap="round" />
<path d="M61.00,120.71 C61.05,117.29 61.18,108.29 61.30,100.21 C61.42,92.12 61.52,79.87 61.70,72.21 C61.88,64.54 62.10,58.21 62.40,54.21 C62.70,50.22 62.82,49.63 63.50,48.22 C64.18,46.82 65.42,46.75 66.50,45.80 C67.58,44.84 68.70,43.36 70.00,42.49 C71.30,41.62 73.00,40.64 74.30,40.57 C75.60,40.49 76.72,41.63 77.80,42.06 C78.88,42.50 79.77,43.29 80.80,43.17 C81.83,43.06 83.10,41.78 84.00,41.36 C84.90,40.95 85.20,40.53 86.20,40.67 C87.20,40.81 88.70,41.56 90.00,42.21 C91.30,42.87 92.83,43.77 94.00,44.60 C95.17,45.43 96.00,46.30 97.00,47.20 C98.00,48.10 98.97,48.95 100.00,50.00 C101.03,51.05 101.87,52.27 103.20,53.50 C104.53,54.73 106.53,56.60 108.00,57.40 C109.47,58.20 110.68,58.17 112.00,58.30 C113.32,58.43 113.90,58.52 115.90,58.20 C117.90,57.88 121.35,57.00 124.00,56.40 C126.65,55.80 129.47,54.98 131.80,54.60 C134.13,54.22 135.88,54.30 138.00,54.10 C140.12,53.90 142.35,54.02 144.50,53.40 C146.65,52.78 148.78,52.22 150.90,50.40 C153.02,48.58 155.48,44.97 157.20,42.50 C158.92,40.03 159.87,37.17 161.20,35.60 C162.53,34.03 163.73,33.18 165.20,33.10 C166.67,33.02 167.62,34.45 170.00,35.10 C172.38,35.75 176.88,36.52 179.50,37.00 C182.12,37.48 183.62,38.10 185.70,38.00 C187.78,37.90 189.95,37.02 192.00,36.40 C194.05,35.78 196.62,34.65 198.00,34.30 C199.38,33.95 200.02,31.98 200.30,34.30 C200.58,36.62 199.93,43.22 199.70,48.20 C199.47,53.18 199.27,60.62 198.90,64.20 C198.53,67.78 198.73,67.53 197.50,69.70 C196.27,71.87 194.17,74.95 191.50,77.20 C188.83,79.45 184.82,81.38 181.50,83.20 C178.18,85.02 174.58,85.62 171.60,88.10 C168.62,90.58 166.08,94.28 163.60,98.10 C161.12,101.92 158.68,108.18 156.70,111.00 C154.72,113.82 153.70,115.67 151.70,115.00 C149.70,114.33 147.02,109.98 144.70,107.00 C142.38,104.02 140.28,100.25 137.80,97.10 C135.32,93.95 132.78,90.10 129.80,88.10 C126.82,86.10 123.47,85.77 119.90,85.10 C116.33,84.43 111.25,83.98 108.40,84.10 C105.55,84.22 104.67,84.70 102.80,85.80 C100.93,86.90 99.30,88.47 97.20,90.70 C95.10,92.93 92.55,97.08 90.20,99.20 C87.85,101.32 85.22,102.35 83.10,103.40 C80.98,104.45 79.13,104.45 77.50,105.50 C75.87,106.55 74.47,108.88 73.30,109.70 C72.13,110.52 71.67,110.75 70.50,110.40 C69.33,110.05 67.37,108.18 66.30,107.60 C65.23,107.02 64.70,106.43 64.10,106.90 C63.50,107.37 63.13,108.85 62.70,110.40 C62.27,111.95 61.78,114.48 61.50,116.20 C61.22,117.92 61.08,119.95 61.00,120.70" fill="none" stroke="#2010a0" stroke-width="1.35" stroke-linejoin="round" stroke-linecap="round" />
<path d="M61.00,120.75 C61.05,117.33 61.18,108.33 61.30,100.25 C61.42,92.17 61.52,79.92 61.70,72.25 C61.88,64.58 62.10,58.25 62.40,54.25 C62.70,50.25 62.82,49.67 63.50,48.25 C64.18,46.83 65.42,46.75 66.50,45.75 C67.58,44.75 68.70,43.20 70.00,42.25 C71.30,41.30 73.00,40.17 74.30,40.05 C75.60,39.93 76.72,41.08 77.80,41.55 C78.88,42.02 79.77,42.90 80.80,42.85 C81.83,42.80 83.10,41.62 84.00,41.25 C84.90,40.88 85.20,40.48 86.20,40.65 C87.20,40.82 88.70,41.58 90.00,42.25 C91.30,42.92 92.83,43.82 94.00,44.65 C95.17,45.48 96.00,46.35 97.00,47.25 C98.00,48.15 98.97,49.00 100.00,50.05 C101.03,51.10 101.87,52.32 103.20,53.55 C104.53,54.78 106.53,56.65 108.00,57.45 C109.47,58.25 110.68,58.22 112.00,58.35 C113.32,58.48 113.90,58.57 115.90,58.25 C117.90,57.93 121.35,57.05 124.00,56.45 C126.65,55.85 129.47,55.03 131.80,54.65 C134.13,54.27 135.88,54.35 138.00,54.15 C140.12,53.95 142.35,54.07 144.50,53.45 C146.65,52.83 148.78,52.27 150.90,50.45 C153.02,48.63 155.48,45.02 157.20,42.55 C158.92,40.08 159.87,37.22 161.20,35.65 C162.53,34.08 163.73,33.23 165.20,33.15 C166.67,33.07 167.62,34.50 170.00,35.15 C172.38,35.80 176.88,36.57 179.50,37.05 C182.12,37.53 183.62,38.15 185.70,38.05 C187.78,37.95 189.95,37.06 192.00,36.45 C194.05,35.84 196.62,34.70 198.00,34.40 C199.38,34.10 200.02,32.34 200.30,34.65 C200.58,36.96 199.93,43.32 199.70,48.25 C199.47,53.18 199.27,60.67 198.90,64.25 C198.53,67.83 198.73,67.58 197.50,69.75 C196.27,71.92 194.17,75.00 191.50,77.25 C188.83,79.50 184.82,81.43 181.50,83.25 C178.18,85.07 174.58,85.67 171.60,88.15 C168.62,90.63 166.08,94.33 163.60,98.15 C161.12,101.97 158.68,108.23 156.70,111.05 C154.72,113.87 153.70,115.72 151.70,115.05 C149.70,114.38 147.02,110.03 144.70,107.05 C142.38,104.07 140.28,100.30 137.80,97.15 C135.32,94.00 132.78,90.15 129.80,88.15 C126.82,86.15 123.47,85.82 119.90,85.15 C116.33,84.48 111.25,84.03 108.40,84.15 C105.55,84.27 104.67,84.75 102.80,85.85 C100.93,86.95 99.30,88.52 97.20,90.75 C95.10,92.98 92.55,97.13 90.20,99.25 C87.85,101.37 85.22,102.40 83.10,103.45 C80.98,104.50 79.13,104.50 77.50,105.55 C75.87,106.60 74.47,108.93 73.30,109.75 C72.13,110.57 71.67,110.80 70.50,110.45 C69.33,110.10 67.37,108.23 66.30,107.65 C65.23,107.07 64.70,106.48 64.10,106.95 C63.50,107.42 63.13,108.90 62.70,110.45 C62.27,112.00 61.78,114.53 61.50,116.25 C61.22,117.97 61.08,120.00 61.00,120.75" fill="none" stroke="#ff3060" stroke-width="1.35" stroke-linejoin="round" stroke-linecap="round" />
<path d="M61.00,120.80 C61.05,117.38 61.18,108.38 61.30,100.30 C61.42,92.22 61.52,79.97 61.70,72.30 C61.88,64.63 62.10,58.30 62.40,54.30 C62.70,50.30 62.82,49.72 63.50,48.30 C64.18,46.88 65.42,46.80 66.50,45.80 C67.58,44.80 68.70,43.25 70.00,42.30 C71.30,41.35 73.00,40.22 74.30,40.10 C75.60,39.98 76.72,41.13 77.80,41.60 C78.88,42.07 79.77,42.95 80.80,42.90 C81.83,42.85 83.10,41.67 84.00,41.30 C84.90,40.93 85.20,40.53 86.20,40.70 C87.20,40.87 88.70,41.63 90.00,42.30 C91.30,42.97 92.83,43.87 94.00,44.70 C95.17,45.53 96.00,46.40 97.00,47.30 C98.00,48.20 98.97,49.05 100.00,50.10 C101.03,51.15 101.87,52.37 103.20,53.60 C104.53,54.83 106.53,56.70 108.00,57.50 C109.47,58.30 110.68,58.27 112.00,58.40 C113.32,58.53 113.90,58.62 115.90,58.30 C117.90,57.98 121.35,57.10 124.00,56.50 C126.65,55.90 129.47,55.08 131.80,54.70 C134.13,54.32 135.88,54.40 138.00,54.20 C140.12,54.00 142.35,54.12 144.50,53.50 C146.65,52.88 148.78,52.32 150.90,50.50 C153.02,48.68 155.48,45.07 157.20,42.60 C158.92,40.13 159.87,37.27 161.20,35.70 C162.53,34.13 163.73,33.28 165.20,33.20 C166.67,33.12 167.62,34.55 170.00,35.20 C172.38,35.85 176.88,36.62 179.50,37.10 C182.12,37.58 183.62,38.20 185.70,38.10 C187.78,38.00 189.95,37.10 192.00,36.50 C194.05,35.90 196.62,34.75 198.00,34.50 C199.38,34.25 200.02,32.70 200.30,35.00 C200.58,37.30 199.93,43.42 199.70,48.30 C199.47,53.18 199.27,60.72 198.90,64.30 C198.53,67.88 198.73,67.63 197.50,69.80 C196.27,71.97 194.17,75.05 191.50,77.30 C188.83,79.55 184.82,81.48 181.50,83.30 C178.18,85.12 174.58,85.72 171.60,88.20 C168.62,90.68 166.08,94.38 163.60,98.20 C161.12,102.02 158.68,108.28 156.70,111.10 C154.72,113.92 153.70,115.77 151.70,115.10 C149.70,114.43 147.02,110.08 144.70,107.10 C142.38,104.12 140.28,100.35 137.80,97.20 C135.32,94.05 132.78,90.20 129.80,88.20 C126.82,86.20 123.47,85.87 119.90,85.20 C116.33,84.53 111.25,84.08 108.40,84.20 C105.55,84.32 104.67,84.80 102.80,85.90 C100.93,87.00 99.30,88.57 97.20,90.80 C95.10,93.03 92.55,97.18 90.20,99.30 C87.85,101.42 85.22,102.45 83.10,103.50 C80.98,104.55 79.13,104.55 77.50,105.60 C75.87,106.65 74.47,108.98 73.30,109.80 C72.13,110.62 71.67,110.85 70.50,110.50 C69.33,110.15 67.37,108.28 66.30,107.70 C65.23,107.12 64.70,106.53 64.10,107.00 C63.50,107.47 63.13,108.95 62.70,110.50 C62.27,112.05 61.78,114.58 61.50,116.30 C61.22,118.02 61.08,120.05 61.00,120.80" fill="none" stroke="#7a10a0" stroke-width="1.35" stroke-linejoin="round" stroke-linecap="round" />
</g>
<rect x="291.25" y="10.8" width="189.25" height="118.00000000000001" fill="none" stroke="#2e2e2e" stroke-width="1.6"/>
<line x1="291.25" y1="128.80" x2="291.25" y2="131.60" stroke="#2e2e2e" stroke-width="1.4"/>
<text x="291.25" y="138.60" font-size="8.2" font-weight="bold" fill="#111" text-anchor="middle" textLength="12.60" lengthAdjust="spacingAndGlyphs" stroke="#111" stroke-width="0.15">0.2</text>
<line x1="312.31" y1="128.80" x2="312.31" y2="130.60" stroke="#2e2e2e" stroke-width="1.4"/>
<line x1="333.37" y1="128.80" x2="333.37" y2="131.60" stroke="#2e2e2e" stroke-width="1.4"/>
<text x="333.37" y="138.60" font-size="8.2" font-weight="bold" fill="#111" text-anchor="middle" textLength="12.60" lengthAdjust="spacingAndGlyphs" stroke="#111" stroke-width="0.15">0.4</text>
<line x1="354.43" y1="128.80" x2="354.43" y2="130.60" stroke="#2e2e2e" stroke-width="1.4"/>
<line x1="375.49" y1="128.80" x2="375.49" y2="131.60" stroke="#2e2e2e" stroke-width="1.4"/>
<text x="375.49" y="138.60" font-size="8.2" font-weight="bold" fill="#111" text-anchor="middle" textLength="12.60" lengthAdjust="spacingAndGlyphs" stroke="#111" stroke-width="0.15">0.6</text>
<line x1="396.55" y1="128.80" x2="396.55" y2="130.60" stroke="#2e2e2e" stroke-width="1.4"/>
<line x1="417.61" y1="128.80" x2="417.61" y2="131.60" stroke="#2e2e2e" stroke-width="1.4"/>
<text x="417.61" y="138.60" font-size="8.2" font-weight="bold" fill="#111" text-anchor="middle" textLength="12.60" lengthAdjust="spacingAndGlyphs" stroke="#111" stroke-width="0.15">0.8</text>
<line x1="438.67" y1="128.80" x2="438.67" y2="130.60" stroke="#2e2e2e" stroke-width="1.4"/>
<line x1="459.73" y1="128.80" x2="459.73" y2="131.60" stroke="#2e2e2e" stroke-width="1.4"/>
<text x="459.73" y="138.60" font-size="8.2" font-weight="bold" fill="#111" text-anchor="middle" textLength="12.60" lengthAdjust="spacingAndGlyphs" stroke="#111" stroke-width="0.15">1.0</text>
<line x1="480.79" y1="128.80" x2="480.79" y2="130.60" stroke="#2e2e2e" stroke-width="1.4"/>
<line x1="291.25" y1="10.90" x2="288.45" y2="10.90" stroke="#2e2e2e" stroke-width="1.4"/>
<text x="286.00" y="13.40" font-size="8.5" font-weight="bold" fill="#111" text-anchor="end" textLength="5.20" lengthAdjust="spacingAndGlyphs" stroke="#111" stroke-width="0.15">1</text>
<line x1="291.25" y1="18.70" x2="289.45" y2="18.70" stroke="#2e2e2e" stroke-width="1.4"/>
<line x1="291.25" y1="26.50" x2="288.45" y2="26.50" stroke="#2e2e2e" stroke-width="1.4"/>
<text x="286.00" y="29.00" font-size="8.5" font-weight="bold" fill="#111" text-anchor="end" textLength="5.20" lengthAdjust="spacingAndGlyphs" stroke="#111" stroke-width="0.15">0</text>
<line x1="291.25" y1="34.30" x2="289.45" y2="34.30" stroke="#2e2e2e" stroke-width="1.4"/>
<line x1="291.25" y1="42.10" x2="288.45" y2="42.10" stroke="#2e2e2e" stroke-width="1.4"/>
<text x="286.00" y="44.60" font-size="8.5" font-weight="bold" fill="#111" text-anchor="end" textLength="8.00" lengthAdjust="spacingAndGlyphs" stroke="#111" stroke-width="0.15">-1</text>
<line x1="291.25" y1="49.90" x2="289.45" y2="49.90" stroke="#2e2e2e" stroke-width="1.4"/>
<line x1="291.25" y1="57.70" x2="288.45" y2="57.70" stroke="#2e2e2e" stroke-width="1.4"/>
<text x="286.00" y="60.20" font-size="8.5" font-weight="bold" fill="#111" text-anchor="end" textLength="8.00" lengthAdjust="spacingAndGlyphs" stroke="#111" stroke-width="0.15">-2</text>
<line x1="291.25" y1="65.50" x2="289.45" y2="65.50" stroke="#2e2e2e" stroke-width="1.4"/>
<line x1="291.25" y1="73.30" x2="288.45" y2="73.30" stroke="#2e2e2e" stroke-width="1.4"/>
<text x="286.00" y="75.80" font-size="8.5" font-weight="bold" fill="#111" text-anchor="end" textLength="8.00" lengthAdjust="spacingAndGlyphs" stroke="#111" stroke-width="0.15">-3</text>
<line x1="291.25" y1="81.10" x2="289.45" y2="81.10" stroke="#2e2e2e" stroke-width="1.4"/>
<line x1="291.25" y1="88.90" x2="288.45" y2="88.90" stroke="#2e2e2e" stroke-width="1.4"/>
<text x="286.00" y="91.40" font-size="8.5" font-weight="bold" fill="#111" text-anchor="end" textLength="8.00" lengthAdjust="spacingAndGlyphs" stroke="#111" stroke-width="0.15">-4</text>
<line x1="291.25" y1="96.70" x2="289.45" y2="96.70" stroke="#2e2e2e" stroke-width="1.4"/>
<line x1="291.25" y1="104.50" x2="288.45" y2="104.50" stroke="#2e2e2e" stroke-width="1.4"/>
<text x="286.00" y="107.00" font-size="8.5" font-weight="bold" fill="#111" text-anchor="end" textLength="8.00" lengthAdjust="spacingAndGlyphs" stroke="#111" stroke-width="0.15">-5</text>
<line x1="291.25" y1="112.30" x2="289.45" y2="112.30" stroke="#2e2e2e" stroke-width="1.4"/>
<line x1="291.25" y1="120.10" x2="288.45" y2="120.10" stroke="#2e2e2e" stroke-width="1.4"/>
<text x="286.00" y="122.60" font-size="8.5" font-weight="bold" fill="#111" text-anchor="end" textLength="8.00" lengthAdjust="spacingAndGlyphs" stroke="#111" stroke-width="0.15">-6</text>
<line x1="291.25" y1="127.90" x2="289.45" y2="127.90" stroke="#2e2e2e" stroke-width="1.4"/>
<text x="328.60" y="148.00" font-size="9.2" font-weight="bold" fill="#111" text-anchor="start" textLength="102.20" lengthAdjust="spacingAndGlyphs" stroke="#111" stroke-width="0.15">Potential (V vs. RHE)</text>
<text x="264.40" y="20.50" font-size="12.0" font-weight="bold" fill="#111" text-anchor="start" textLength="6.30" lengthAdjust="spacingAndGlyphs" stroke="#111" stroke-width="0.5">E</text>
<text transform="translate(261.00,104.00) rotate(-90)" x="0" y="0" font-size="10.2" font-weight="bold" fill="#111" text-anchor="start" textLength="61.80" lengthAdjust="spacingAndGlyphs" stroke="#111" stroke-width="0.3">Current (mA/cm</text>
<text transform="translate(255.80,42.20) rotate(-90)" x="0" y="0" font-size="6.0" font-weight="bold" fill="#111" text-anchor="start" textLength="3.20" lengthAdjust="spacingAndGlyphs" stroke="#111" stroke-width="0.15">2</text>
<text transform="translate(261.00,39.00) rotate(-90)" x="0" y="0" font-size="10.2" font-weight="bold" fill="#111" text-anchor="start" textLength="3.40" lengthAdjust="spacingAndGlyphs" stroke="#111" stroke-width="0.15">)</text>
<line x1="388.40" y1="16.70" x2="407.20" y2="16.70" stroke="#000000" stroke-width="1.3"/>
<text x="409.20" y="19.30" font-size="6.8" font-weight="bold" fill="#111" text-anchor="start" textLength="9.50" lengthAdjust="spacingAndGlyphs" stroke="#111" stroke-width="0.15">50</text>
<line x1="388.40" y1="24.40" x2="407.20" y2="24.40" stroke="#ff5050" stroke-width="1.3"/>
<text x="409.20" y="27.00" font-size="6.8" font-weight="bold" fill="#111" text-anchor="start" textLength="12.00" lengthAdjust="spacingAndGlyphs" stroke="#111" stroke-width="0.15">10k</text>
<line x1="388.40" y1="32.10" x2="407.20" y2="32.10" stroke="#5050ff" stroke-width="1.3"/>
<text x="409.20" y="34.70" font-size="6.8" font-weight="bold" fill="#111" text-anchor="start" textLength="12.00" lengthAdjust="spacingAndGlyphs" stroke="#111" stroke-width="0.15">20k</text>
<line x1="388.40" y1="39.80" x2="407.20" y2="39.80" stroke="#309090" stroke-width="1.3"/>
<text x="409.20" y="42.40" font-size="6.8" font-weight="bold" fill="#111" text-anchor="start" textLength="12.00" lengthAdjust="spacingAndGlyphs" stroke="#111" stroke-width="0.15">30k</text>
<line x1="388.40" y1="47.50" x2="407.20" y2="47.50" stroke="#ff50ff" stroke-width="1.3"/>
<text x="409.20" y="50.10" font-size="6.8" font-weight="bold" fill="#111" text-anchor="start" textLength="12.00" lengthAdjust="spacingAndGlyphs" stroke="#111" stroke-width="0.15">40k</text>
<line x1="388.40" y1="55.20" x2="407.20" y2="55.20" stroke="#a0a050" stroke-width="1.3"/>
<text x="409.20" y="57.80" font-size="6.8" font-weight="bold" fill="#111" text-anchor="start" textLength="12.00" lengthAdjust="spacingAndGlyphs" stroke="#111" stroke-width="0.15">50k</text>
<line x1="388.40" y1="62.90" x2="407.20" y2="62.90" stroke="#202090" stroke-width="1.3"/>
<text x="409.20" y="65.50" font-size="6.8" font-weight="bold" fill="#111" text-anchor="start" textLength="12.00" lengthAdjust="spacingAndGlyphs" stroke="#111" stroke-width="0.15">60k</text>
<line x1="388.40" y1="70.60" x2="407.20" y2="70.60" stroke="#902020" stroke-width="1.3"/>
<text x="409.20" y="73.20" font-size="6.8" font-weight="bold" fill="#111" text-anchor="start" textLength="12.00" lengthAdjust="spacingAndGlyphs" stroke="#111" stroke-width="0.15">70k</text>
<line x1="388.40" y1="78.30" x2="407.20" y2="78.30" stroke="#ff7070" stroke-width="1.3"/>
<text x="409.20" y="80.90" font-size="6.8" font-weight="bold" fill="#111" text-anchor="start" textLength="12.00" lengthAdjust="spacingAndGlyphs" stroke="#111" stroke-width="0.15">80k</text>
<line x1="388.40" y1="86.00" x2="407.20" y2="86.00" stroke="#40a040" stroke-width="1.3"/>
<text x="409.20" y="88.60" font-size="6.8" font-weight="bold" fill="#111" text-anchor="start" textLength="12.00" lengthAdjust="spacingAndGlyphs" stroke="#111" stroke-width="0.15">90k</text>
<line x1="388.40" y1="93.70" x2="407.20" y2="93.70" stroke="#3030b0" stroke-width="1.3"/>
<text x="409.20" y="96.30" font-size="6.8" font-weight="bold" fill="#111" text-anchor="start" textLength="16.00" lengthAdjust="spacingAndGlyphs" stroke="#111" stroke-width="0.15">100k</text>
<line x1="388.40" y1="101.40" x2="407.20" y2="101.40" stroke="#ff8070" stroke-width="1.3"/>
<text x="409.20" y="104.00" font-size="6.8" font-weight="bold" fill="#111" text-anchor="start" textLength="16.00" lengthAdjust="spacingAndGlyphs" stroke="#111" stroke-width="0.15">110k</text>
<line x1="388.40" y1="109.10" x2="407.20" y2="109.10" stroke="#9040b0" stroke-width="1.3"/>
<text x="409.20" y="111.70" font-size="6.8" font-weight="bold" fill="#111" text-anchor="start" textLength="16.00" lengthAdjust="spacingAndGlyphs" stroke="#111" stroke-width="0.15">120k</text>
<g clip-path="url(#clipE)">
<path d="M291.77,118.70 C294.85,118.88 303.19,119.47 310.27,119.80 C317.35,120.13 324.69,120.70 334.27,120.70 C343.85,120.70 357.94,120.13 367.77,119.80 C377.60,119.47 385.67,119.15 393.27,118.70 C400.87,118.25 408.03,117.73 413.37,117.10 C418.71,116.47 421.91,115.83 425.30,114.90 C428.69,113.97 431.20,113.02 433.70,111.50 C436.20,109.98 438.42,108.15 440.30,105.80 C442.18,103.45 443.75,100.37 445.00,97.40 C446.25,94.43 446.92,91.82 447.80,88.00 C448.68,84.18 449.53,79.42 450.30,74.50 C451.07,69.58 451.55,63.47 452.40,58.50 C453.25,53.53 454.25,48.57 455.40,44.70 C456.55,40.83 457.95,37.88 459.30,35.30 C460.65,32.72 461.93,30.85 463.50,29.20 C465.07,27.55 466.79,26.23 468.70,25.40 C470.61,24.57 472.88,24.42 474.97,24.20 C477.06,23.98 480.22,24.12 481.27,24.10" fill="none" stroke="#4040ff" stroke-width="1.4" stroke-linejoin="round" stroke-linecap="round" />
<path d="M291.35,117.90 C294.43,118.08 302.77,118.67 309.85,119.00 C316.93,119.33 324.27,119.90 333.85,119.90 C343.43,119.90 357.52,119.33 367.35,119.00 C377.18,118.67 385.25,118.35 392.85,117.90 C400.45,117.45 407.78,116.93 412.95,116.30 C418.13,115.67 420.67,115.03 423.90,114.10 C427.12,113.17 429.80,112.22 432.30,110.70 C434.80,109.18 437.02,107.35 438.90,105.00 C440.78,102.65 442.35,99.57 443.60,96.60 C444.85,93.63 445.52,91.02 446.40,87.20 C447.28,83.38 448.13,78.62 448.90,73.70 C449.67,68.78 450.15,62.67 451.00,57.70 C451.85,52.73 452.85,47.77 454.00,43.90 C455.15,40.03 456.55,37.08 457.90,34.50 C459.25,31.92 460.53,30.05 462.10,28.40 C463.67,26.75 465.23,25.43 467.30,24.60 C469.38,23.77 472.29,23.62 474.55,23.40 C476.81,23.18 479.80,23.32 480.85,23.30" fill="none" stroke="#ff3030" stroke-width="1.4" stroke-linejoin="round" stroke-linecap="round" />
<path d="M291.50,118.20 C294.58,118.38 302.92,118.97 310.00,119.30 C317.08,119.63 324.42,120.20 334.00,120.20 C343.58,120.20 357.67,119.63 367.50,119.30 C377.33,118.97 385.40,118.65 393.00,118.20 C400.60,117.75 407.87,117.23 413.10,116.60 C418.33,115.97 421.12,115.33 424.40,114.40 C427.68,113.47 430.30,112.52 432.80,111.00 C435.30,109.48 437.52,107.65 439.40,105.30 C441.28,102.95 442.85,99.87 444.10,96.90 C445.35,93.93 446.02,91.32 446.90,87.50 C447.78,83.68 448.63,78.92 449.40,74.00 C450.17,69.08 450.65,62.97 451.50,58.00 C452.35,53.03 453.35,48.07 454.50,44.20 C455.65,40.33 457.05,37.38 458.40,34.80 C459.75,32.22 461.03,30.35 462.60,28.70 C464.17,27.05 465.78,25.73 467.80,24.90 C469.82,24.07 472.50,23.92 474.70,23.70 C476.90,23.48 479.95,23.62 481.00,23.60" fill="none" stroke="#8030a0" stroke-width="1.4" stroke-linejoin="round" stroke-linecap="round" />
<path d="M291.44,118.40 C294.52,118.58 302.86,119.17 309.94,119.50 C317.02,119.83 324.36,120.40 333.94,120.40 C343.52,120.40 357.61,119.83 367.44,119.50 C377.27,119.17 385.34,118.85 392.94,118.40 C400.54,117.95 407.83,117.43 413.04,116.80 C418.25,116.17 420.94,115.53 424.20,114.60 C427.46,113.67 430.10,112.72 432.60,111.20 C435.10,109.68 437.32,107.85 439.20,105.50 C441.08,103.15 442.65,100.07 443.90,97.10 C445.15,94.13 445.82,91.52 446.70,87.70 C447.58,83.88 448.43,79.12 449.20,74.20 C449.97,69.28 450.45,63.17 451.30,58.20 C452.15,53.23 453.15,48.27 454.30,44.40 C455.45,40.53 456.85,37.58 458.20,35.00 C459.55,32.42 460.83,30.55 462.40,28.90 C463.97,27.25 465.56,25.93 467.60,25.10 C469.64,24.27 472.42,24.12 474.64,23.90 C476.86,23.68 479.89,23.82 480.94,23.80" fill="none" stroke="#d03070" stroke-width="1.4" stroke-linejoin="round" stroke-linecap="round" />
</g>
<rect x="314.0" y="18.8" width="66.80000000000001" height="77.4" fill="#fff" stroke="#2e2e2e" stroke-width="1.1"/>
<line x1="314.00" y1="96.20" x2="314.00" y2="98.00" stroke="#2e2e2e" stroke-width="0.8"/>
<text x="314.00" y="102.30" font-size="5.0" font-weight="bold" fill="#111" text-anchor="middle" textLength="11.00" lengthAdjust="spacingAndGlyphs" stroke="#111" stroke-width="0.15">0.90</text>
<line x1="330.70" y1="96.20" x2="330.70" y2="97.40" stroke="#2e2e2e" stroke-width="0.8"/>
<line x1="347.40" y1="96.20" x2="347.40" y2="98.00" stroke="#2e2e2e" stroke-width="0.8"/>
<text x="347.40" y="102.30" font-size="5.0" font-weight="bold" fill="#111" text-anchor="middle" textLength="11.00" lengthAdjust="spacingAndGlyphs" stroke="#111" stroke-width="0.15">0.92</text>
<line x1="364.10" y1="96.20" x2="364.10" y2="97.40" stroke="#2e2e2e" stroke-width="0.8"/>
<line x1="380.80" y1="96.20" x2="380.80" y2="98.00" stroke="#2e2e2e" stroke-width="0.8"/>
<text x="380.80" y="102.30" font-size="5.0" font-weight="bold" fill="#111" text-anchor="middle" textLength="11.00" lengthAdjust="spacingAndGlyphs" stroke="#111" stroke-width="0.15">0.94</text>
<line x1="314.00" y1="96.20" x2="312.20" y2="96.20" stroke="#2e2e2e" stroke-width="0.8"/>
<text x="312.20" y="98.00" font-size="5.0" font-weight="bold" fill="#111" text-anchor="end" textLength="8.00" lengthAdjust="spacingAndGlyphs" stroke="#111" stroke-width="0.15">0.5</text>
<line x1="314.00" y1="89.75" x2="312.80" y2="89.75" stroke="#2e2e2e" stroke-width="0.8"/>
<line x1="314.00" y1="83.30" x2="312.20" y2="83.30" stroke="#2e2e2e" stroke-width="0.8"/>
<text x="312.20" y="85.10" font-size="5.0" font-weight="bold" fill="#111" text-anchor="end" textLength="8.00" lengthAdjust="spacingAndGlyphs" stroke="#111" stroke-width="0.15">1.0</text>
<line x1="314.00" y1="76.85" x2="312.80" y2="76.85" stroke="#2e2e2e" stroke-width="0.8"/>
<line x1="314.00" y1="70.40" x2="312.20" y2="70.40" stroke="#2e2e2e" stroke-width="0.8"/>
<text x="312.20" y="72.20" font-size="5.0" font-weight="bold" fill="#111" text-anchor="end" textLength="8.00" lengthAdjust="spacingAndGlyphs" stroke="#111" stroke-width="0.15">1.5</text>
<line x1="314.00" y1="63.95" x2="312.80" y2="63.95" stroke="#2e2e2e" stroke-width="0.8"/>
<line x1="314.00" y1="57.50" x2="312.20" y2="57.50" stroke="#2e2e2e" stroke-width="0.8"/>
<text x="312.20" y="59.30" font-size="5.0" font-weight="bold" fill="#111" text-anchor="end" textLength="8.00" lengthAdjust="spacingAndGlyphs" stroke="#111" stroke-width="0.15">2.0</text>
<line x1="314.00" y1="51.05" x2="312.80" y2="51.05" stroke="#2e2e2e" stroke-width="0.8"/>
<line x1="314.00" y1="44.60" x2="312.20" y2="44.60" stroke="#2e2e2e" stroke-width="0.8"/>
<text x="312.20" y="46.40" font-size="5.0" font-weight="bold" fill="#111" text-anchor="end" textLength="8.00" lengthAdjust="spacingAndGlyphs" stroke="#111" stroke-width="0.15">2.5</text>
<line x1="314.00" y1="38.15" x2="312.80" y2="38.15" stroke="#2e2e2e" stroke-width="0.8"/>
<line x1="314.00" y1="31.70" x2="312.20" y2="31.70" stroke="#2e2e2e" stroke-width="0.8"/>
<text x="312.20" y="33.50" font-size="5.0" font-weight="bold" fill="#111" text-anchor="end" textLength="8.00" lengthAdjust="spacingAndGlyphs" stroke="#111" stroke-width="0.15">3.0</text>
<line x1="314.00" y1="25.25" x2="312.80" y2="25.25" stroke="#2e2e2e" stroke-width="0.8"/>
<line x1="314.00" y1="18.80" x2="312.20" y2="18.80" stroke="#2e2e2e" stroke-width="0.8"/>
<text x="312.20" y="20.60" font-size="5.0" font-weight="bold" fill="#111" text-anchor="end" textLength="8.00" lengthAdjust="spacingAndGlyphs" stroke="#111" stroke-width="0.15">3.5</text>
<text x="314.80" y="111.20" font-size="5.8" font-weight="normal" fill="#222" text-anchor="start" textLength="61.70" lengthAdjust="spacingAndGlyphs" stroke="#222" stroke-width="0.3">Potentail (V vs. RHE)</text>
<text transform="translate(300.70,63.30) rotate(-90)" x="0" y="0" font-size="6.6" font-weight="bold" fill="#111" text-anchor="start" textLength="21.80" lengthAdjust="spacingAndGlyphs" stroke="#111" stroke-width="0.15">MA,A/mg</text>
<text transform="translate(303.00,41.40) rotate(-90)" x="0" y="0" font-size="4.2" font-weight="bold" fill="#111" text-anchor="start" textLength="4.00" lengthAdjust="spacingAndGlyphs" stroke="#111" stroke-width="0.15">Pt</text>
<g clip-path="url(#clipI)">
<path d="M314.00,56.73 C314.56,57.16 316.23,58.47 317.34,59.34 C318.45,60.20 319.57,61.05 320.68,61.89 C321.79,62.74 322.91,63.57 324.02,64.40 C325.13,65.22 326.25,66.04 327.36,66.85 C328.47,67.65 329.59,68.45 330.70,69.24 C331.81,70.02 332.93,70.80 334.04,71.57 C335.15,72.34 336.27,73.09 337.38,73.84 C338.49,74.58 339.61,75.32 340.72,76.04 C341.83,76.76 342.95,77.48 344.06,78.18 C345.17,78.88 346.29,79.56 347.40,80.24 C348.51,80.91 349.63,81.58 350.74,82.22 C351.85,82.87 352.97,83.51 354.08,84.13 C355.19,84.75 356.31,85.35 357.42,85.94 C358.53,86.53 359.65,87.11 360.76,87.66 C361.87,88.22 362.99,88.76 364.10,89.27 C365.21,89.79 366.33,90.29 367.44,90.77 C368.55,91.24 369.67,91.70 370.78,92.12 C371.89,92.55 373.01,92.96 374.12,93.32 C375.23,93.68 376.35,94.03 377.46,94.30 C378.57,94.56 380.24,94.81 380.80,94.91" fill="none" stroke="#a040c0" stroke-width="1.1" stroke-linejoin="round" stroke-linecap="round" />
<path d="M314.00,55.44 C314.56,55.89 316.23,57.24 317.34,58.13 C318.45,59.02 319.57,59.91 320.68,60.78 C321.79,61.65 322.91,62.51 324.02,63.37 C325.13,64.22 326.25,65.06 327.36,65.90 C328.47,66.73 329.59,67.56 330.70,68.37 C331.81,69.18 332.93,69.99 334.04,70.78 C335.15,71.57 336.27,72.36 337.38,73.13 C338.49,73.90 339.61,74.66 340.72,75.40 C341.83,76.15 342.95,76.89 344.06,77.61 C345.17,78.33 346.29,79.05 347.40,79.74 C348.51,80.44 349.63,81.13 350.74,81.80 C351.85,82.47 352.97,83.12 354.08,83.76 C355.19,84.40 356.31,85.03 357.42,85.64 C358.53,86.25 359.65,86.84 360.76,87.42 C361.87,87.99 362.99,88.55 364.10,89.08 C365.21,89.62 366.33,90.14 367.44,90.63 C368.55,91.12 369.67,91.59 370.78,92.03 C371.89,92.47 373.01,92.89 374.12,93.26 C375.23,93.64 376.35,94.00 377.46,94.28 C378.57,94.55 380.24,94.80 380.80,94.91" fill="none" stroke="#ff7080" stroke-width="1.1" stroke-linejoin="round" stroke-linecap="round" />
<path d="M314.00,53.11 C314.56,53.59 316.23,55.02 317.34,55.95 C318.45,56.89 319.57,57.82 320.68,58.73 C321.79,59.65 322.91,60.56 324.02,61.46 C325.13,62.36 326.25,63.25 327.36,64.12 C328.47,65.00 329.59,65.87 330.70,66.72 C331.81,67.58 332.93,68.43 334.04,69.26 C335.15,70.10 336.27,70.92 337.38,71.73 C338.49,72.54 339.61,73.34 340.72,74.13 C341.83,74.91 342.95,75.69 344.06,76.45 C345.17,77.21 346.29,77.96 347.40,78.69 C348.51,79.43 349.63,80.15 350.74,80.85 C351.85,81.56 352.97,82.25 354.08,82.92 C355.19,83.60 356.31,84.26 357.42,84.90 C358.53,85.54 359.65,86.16 360.76,86.77 C361.87,87.37 362.99,87.96 364.10,88.52 C365.21,89.08 366.33,89.63 367.44,90.15 C368.55,90.66 369.67,91.16 370.78,91.62 C371.89,92.08 373.01,92.53 374.12,92.92 C375.23,93.31 376.35,93.70 377.46,93.99 C378.57,94.28 380.24,94.54 380.80,94.65" fill="none" stroke="#ff9070" stroke-width="1.1" stroke-linejoin="round" stroke-linecap="round" />
<path d="M314.00,50.79 C314.56,51.29 316.23,52.79 317.34,53.77 C318.45,54.76 319.57,55.73 320.68,56.69 C321.79,57.66 322.91,58.61 324.02,59.55 C325.13,60.49 326.25,61.43 327.36,62.35 C328.47,63.27 329.59,64.18 330.70,65.08 C331.81,65.98 332.93,66.87 334.04,67.74 C335.15,68.62 336.27,69.48 337.38,70.33 C338.49,71.18 339.61,72.02 340.72,72.85 C341.83,73.67 342.95,74.49 344.06,75.29 C345.17,76.09 346.29,76.87 347.40,77.64 C348.51,78.41 349.63,79.17 350.74,79.91 C351.85,80.65 352.97,81.37 354.08,82.08 C355.19,82.79 356.31,83.48 357.42,84.15 C358.53,84.83 359.65,85.48 360.76,86.12 C361.87,86.75 362.99,87.37 364.10,87.96 C365.21,88.55 366.33,89.12 367.44,89.66 C368.55,90.21 369.67,90.73 370.78,91.21 C371.89,91.70 373.01,92.16 374.12,92.58 C375.23,92.99 376.35,93.39 377.46,93.70 C378.57,94.00 380.24,94.28 380.80,94.39" fill="none" stroke="#30a030" stroke-width="1.1" stroke-linejoin="round" stroke-linecap="round" />
<path d="M314.00,49.24 C314.56,49.76 316.23,51.30 317.34,52.31 C318.45,53.32 319.57,54.33 320.68,55.32 C321.79,56.31 322.91,57.29 324.02,58.26 C325.13,59.23 326.25,60.19 327.36,61.14 C328.47,62.09 329.59,63.03 330.70,63.95 C331.81,64.88 332.93,65.79 334.04,66.69 C335.15,67.60 336.27,68.49 337.38,69.36 C338.49,70.24 339.61,71.10 340.72,71.95 C341.83,72.80 342.95,73.64 344.06,74.46 C345.17,75.29 346.29,76.09 347.40,76.89 C348.51,77.68 349.63,78.46 350.74,79.22 C351.85,79.98 352.97,80.73 354.08,81.46 C355.19,82.19 356.31,82.90 357.42,83.59 C358.53,84.28 359.65,84.96 360.76,85.61 C361.87,86.27 362.99,86.90 364.10,87.51 C365.21,88.12 366.33,88.71 367.44,89.27 C368.55,89.82 369.67,90.36 370.78,90.86 C371.89,91.36 373.01,91.84 374.12,92.26 C375.23,92.69 376.35,93.11 377.46,93.42 C378.57,93.73 380.24,94.02 380.80,94.14" fill="none" stroke="#2030b0" stroke-width="1.1" stroke-linejoin="round" stroke-linecap="round" />
<path d="M314.00,47.70 C314.56,48.22 316.23,49.81 317.34,50.85 C318.45,51.89 319.57,52.93 320.68,53.95 C321.79,54.97 322.91,55.98 324.02,56.97 C325.13,57.97 326.25,58.96 327.36,59.94 C328.47,60.91 329.59,61.88 330.70,62.83 C331.81,63.78 332.93,64.72 334.04,65.65 C335.15,66.58 336.27,67.49 337.38,68.39 C338.49,69.29 339.61,70.18 340.72,71.06 C341.83,71.93 342.95,72.79 344.06,73.64 C345.17,74.49 346.29,75.32 347.40,76.13 C348.51,76.95 349.63,77.75 350.74,78.54 C351.85,79.32 352.97,80.09 354.08,80.84 C355.19,81.59 356.31,82.32 357.42,83.03 C358.53,83.74 359.65,84.44 360.76,85.11 C361.87,85.78 362.99,86.43 364.10,87.06 C365.21,87.69 366.33,88.29 367.44,88.87 C368.55,89.44 369.67,89.99 370.78,90.51 C371.89,91.02 373.01,91.51 374.12,91.95 C375.23,92.39 376.35,92.82 377.46,93.14 C378.57,93.46 380.24,93.75 380.80,93.88" fill="none" stroke="#202080" stroke-width="1.1" stroke-linejoin="round" stroke-linecap="round" />
<path d="M314.00,46.15 C314.56,46.69 316.23,48.32 317.34,49.39 C318.45,50.46 319.57,51.52 320.68,52.57 C321.79,53.62 322.91,54.66 324.02,55.69 C325.13,56.71 326.25,57.73 327.36,58.73 C328.47,59.73 329.59,60.72 330.70,61.70 C331.81,62.68 332.93,63.65 334.04,64.60 C335.15,65.55 336.27,66.50 337.38,67.42 C338.49,68.35 339.61,69.26 340.72,70.16 C341.83,71.06 342.95,71.95 344.06,72.82 C345.17,73.69 346.29,74.54 347.40,75.38 C348.51,76.22 349.63,77.04 350.74,77.85 C351.85,78.65 352.97,79.44 354.08,80.21 C355.19,80.98 356.31,81.74 357.42,82.47 C358.53,83.20 359.65,83.92 360.76,84.61 C361.87,85.30 362.99,85.97 364.10,86.61 C365.21,87.26 366.33,87.88 367.44,88.47 C368.55,89.06 369.67,89.63 370.78,90.16 C371.89,90.69 373.01,91.19 374.12,91.64 C375.23,92.09 376.35,92.53 377.46,92.86 C378.57,93.19 380.24,93.49 380.80,93.62" fill="none" stroke="#a02020" stroke-width="1.1" stroke-linejoin="round" stroke-linecap="round" />
<path d="M314.00,41.50 C314.56,42.09 316.23,43.87 317.34,45.03 C318.45,46.19 319.57,47.35 320.68,48.49 C321.79,49.63 322.91,50.76 324.02,51.87 C325.13,52.99 326.25,54.09 327.36,55.18 C328.47,56.27 329.59,57.35 330.70,58.41 C331.81,59.48 332.93,60.53 334.04,61.56 C335.15,62.60 336.27,63.62 337.38,64.63 C338.49,65.64 339.61,66.63 340.72,67.61 C341.83,68.58 342.95,69.55 344.06,70.49 C345.17,71.44 346.29,72.37 347.40,73.28 C348.51,74.19 349.63,75.09 350.74,75.96 C351.85,76.84 352.97,77.70 354.08,78.53 C355.19,79.37 356.31,80.19 357.42,80.99 C358.53,81.78 359.65,82.56 360.76,83.31 C361.87,84.06 362.99,84.79 364.10,85.49 C365.21,86.19 366.33,86.86 367.44,87.51 C368.55,88.15 369.67,88.77 370.78,89.34 C371.89,89.91 373.01,90.46 374.12,90.95 C375.23,91.44 376.35,91.92 377.46,92.28 C378.57,92.64 380.24,92.97 380.80,93.10" fill="none" stroke="#b0b040" stroke-width="1.1" stroke-linejoin="round" stroke-linecap="round" />
<path d="M314.00,35.31 C314.56,35.96 316.23,37.92 317.34,39.21 C318.45,40.49 319.57,41.77 320.68,43.03 C321.79,44.29 322.91,45.53 324.02,46.77 C325.13,48.00 326.25,49.22 327.36,50.42 C328.47,51.63 329.59,52.82 330.70,53.99 C331.81,55.17 332.93,56.33 334.04,57.48 C335.15,58.62 336.27,59.75 337.38,60.86 C338.49,61.98 339.61,63.08 340.72,64.16 C341.83,65.23 342.95,66.30 344.06,67.34 C345.17,68.39 346.29,69.42 347.40,70.42 C348.51,71.43 349.63,72.42 350.74,73.39 C351.85,74.35 352.97,75.30 354.08,76.23 C355.19,77.15 356.31,78.06 357.42,78.94 C358.53,79.82 359.65,80.68 360.76,81.50 C361.87,82.33 362.99,83.14 364.10,83.91 C365.21,84.69 366.33,85.43 367.44,86.14 C368.55,86.85 369.67,87.54 370.78,88.17 C371.89,88.81 373.01,89.41 374.12,89.95 C375.23,90.49 376.35,91.02 377.46,91.42 C378.57,91.81 380.24,92.18 380.80,92.33" fill="none" stroke="#ff40ff" stroke-width="1.1" stroke-linejoin="round" stroke-linecap="round" />
<path d="M314.00,33.76 C314.56,34.43 316.23,36.42 317.34,37.73 C318.45,39.04 319.57,40.34 320.68,41.62 C321.79,42.90 322.91,44.17 324.02,45.43 C325.13,46.68 326.25,47.92 327.36,49.15 C328.47,50.38 329.59,51.59 330.70,52.79 C331.81,53.98 332.93,55.16 334.04,56.33 C335.15,57.50 336.27,58.65 337.38,59.78 C338.49,60.91 339.61,62.03 340.72,63.13 C341.83,64.23 342.95,65.31 344.06,66.37 C345.17,67.44 346.29,68.48 347.40,69.51 C348.51,70.54 349.63,71.54 350.74,72.53 C351.85,73.51 352.97,74.48 354.08,75.42 C355.19,76.36 356.31,77.29 357.42,78.18 C358.53,79.08 359.65,79.95 360.76,80.79 C361.87,81.64 362.99,82.46 364.10,83.24 C365.21,84.03 366.33,84.79 367.44,85.52 C368.55,86.24 369.67,86.93 370.78,87.58 C371.89,88.23 373.01,88.84 374.12,89.39 C375.23,89.94 376.35,90.48 377.46,90.88 C378.57,91.29 380.24,91.66 380.80,91.81" fill="none" stroke="#209090" stroke-width="1.1" stroke-linejoin="round" stroke-linecap="round" />
<path d="M314.00,32.73 C314.56,33.40 316.23,35.43 317.34,36.75 C318.45,38.08 319.57,39.39 320.68,40.69 C321.79,41.99 322.91,43.28 324.02,44.55 C325.13,45.82 326.25,47.08 327.36,48.32 C328.47,49.57 329.59,50.79 330.70,52.01 C331.81,53.22 332.93,54.42 334.04,55.60 C335.15,56.78 336.27,57.95 337.38,59.09 C338.49,60.24 339.61,61.37 340.72,62.49 C341.83,63.60 342.95,64.70 344.06,65.78 C345.17,66.86 346.29,67.92 347.40,68.95 C348.51,69.99 349.63,71.01 350.74,72.01 C351.85,73.01 352.97,73.99 354.08,74.94 C355.19,75.90 356.31,76.83 357.42,77.74 C358.53,78.65 359.65,79.53 360.76,80.39 C361.87,81.24 362.99,82.07 364.10,82.87 C365.21,83.67 366.33,84.44 367.44,85.17 C368.55,85.91 369.67,86.61 370.78,87.26 C371.89,87.92 373.01,88.55 374.12,89.10 C375.23,89.66 376.35,90.21 377.46,90.61 C378.57,91.02 380.24,91.40 380.80,91.56" fill="none" stroke="#202020" stroke-width="1.1" stroke-linejoin="round" stroke-linecap="round" />
<path d="M314.00,28.86 C314.56,29.56 316.23,31.66 317.34,33.04 C318.45,34.42 319.57,35.79 320.68,37.14 C321.79,38.49 322.91,39.82 324.02,41.15 C325.13,42.47 326.25,43.78 327.36,45.07 C328.47,46.36 329.59,47.64 330.70,48.90 C331.81,50.16 332.93,51.40 334.04,52.63 C335.15,53.86 336.27,55.07 337.38,56.26 C338.49,57.46 339.61,58.64 340.72,59.79 C341.83,60.95 342.95,62.09 344.06,63.21 C345.17,64.33 346.29,65.43 347.40,66.51 C348.51,67.59 349.63,68.66 350.74,69.69 C351.85,70.73 352.97,71.75 354.08,72.74 C355.19,73.73 356.31,74.70 357.42,75.65 C358.53,76.59 359.65,77.51 360.76,78.40 C361.87,79.29 362.99,80.15 364.10,80.98 C365.21,81.81 366.33,82.61 367.44,83.37 C368.55,84.13 369.67,84.87 370.78,85.55 C371.89,86.23 373.01,86.88 374.12,87.46 C375.23,88.04 376.35,88.60 377.46,89.03 C378.57,89.45 380.24,89.84 380.80,90.01" fill="none" stroke="#ff3030" stroke-width="1.1" stroke-linejoin="round" stroke-linecap="round" />
<path d="M314.00,24.22 C314.56,24.93 316.23,27.10 317.34,28.52 C318.45,29.94 319.57,31.35 320.68,32.74 C321.79,34.13 322.91,35.50 324.02,36.87 C325.13,38.23 326.25,39.57 327.36,40.90 C328.47,42.23 329.59,43.55 330.70,44.85 C331.81,46.14 332.93,47.43 334.04,48.69 C335.15,49.95 336.27,51.20 337.38,52.43 C338.49,53.66 339.61,54.87 340.72,56.06 C341.83,57.26 342.95,58.43 344.06,59.58 C345.17,60.74 346.29,61.87 347.40,62.98 C348.51,64.09 349.63,65.19 350.74,66.26 C351.85,67.32 352.97,68.37 354.08,69.39 C355.19,70.41 356.31,71.41 357.42,72.38 C358.53,73.36 359.65,74.30 360.76,75.22 C361.87,76.13 362.99,77.02 364.10,77.88 C365.21,78.73 366.33,79.56 367.44,80.34 C368.55,81.12 369.67,81.88 370.78,82.58 C371.89,83.28 373.01,83.95 374.12,84.55 C375.23,85.14 376.35,85.72 377.46,86.16 C378.57,86.60 380.24,87.00 380.80,87.17" fill="none" stroke="#4040ff" stroke-width="1.1" stroke-linejoin="round" stroke-linecap="round" />
</g>
<rect x="61.10" y="226.90" width="13.6" height="60.90" fill="#ff0000"/>
<line x1="67.90" y1="226.90" x2="67.90" y2="224.70" stroke="#ff0000" stroke-width="1.2"/>
<line x1="64.90" y1="224.70" x2="70.90" y2="224.70" stroke="#ff0000" stroke-width="1.5"/>
<rect x="94.30" y="222.90" width="13.6" height="64.90" fill="#ff0000"/>
<line x1="101.10" y1="222.90" x2="101.10" y2="220.70" stroke="#ff0000" stroke-width="1.2"/>
<line x1="98.10" y1="220.70" x2="104.10" y2="220.70" stroke="#ff0000" stroke-width="1.5"/>
<rect x="127.50" y="216.30" width="13.6" height="71.50" fill="#ff0000"/>
<line x1="134.30" y1="216.30" x2="134.30" y2="214.10" stroke="#ff0000" stroke-width="1.2"/>
<line x1="131.30" y1="214.10" x2="137.30" y2="214.10" stroke="#ff0000" stroke-width="1.5"/>
<rect x="160.70" y="226.60" width="13.6" height="61.20" fill="#ff0000"/>
<line x1="167.50" y1="226.60" x2="167.50" y2="224.40" stroke="#ff0000" stroke-width="1.2"/>
<line x1="164.50" y1="224.40" x2="170.50" y2="224.40" stroke="#ff0000" stroke-width="1.5"/>
<rect x="193.90" y="228.20" width="13.6" height="59.60" fill="#ff0000"/>
<line x1="200.70" y1="228.20" x2="200.70" y2="226.00" stroke="#ff0000" stroke-width="1.2"/>
<line x1="197.70" y1="226.00" x2="203.70" y2="226.00" stroke="#ff0000" stroke-width="1.5"/>
<rect x="227.10" y="232.30" width="13.6" height="55.50" fill="#ff0000"/>
<line x1="233.90" y1="232.30" x2="233.90" y2="230.10" stroke="#ff0000" stroke-width="1.2"/>
<line x1="230.90" y1="230.10" x2="236.90" y2="230.10" stroke="#ff0000" stroke-width="1.5"/>
<rect x="260.30" y="234.50" width="13.6" height="53.30" fill="#ff0000"/>
<line x1="267.10" y1="234.50" x2="267.10" y2="232.30" stroke="#ff0000" stroke-width="1.2"/>
<line x1="264.10" y1="232.30" x2="270.10" y2="232.30" stroke="#ff0000" stroke-width="1.5"/>
<rect x="293.50" y="235.30" width="13.6" height="52.50" fill="#ff0000"/>
<line x1="300.30" y1="235.30" x2="300.30" y2="233.10" stroke="#ff0000" stroke-width="1.2"/>
<line x1="297.30" y1="233.10" x2="303.30" y2="233.10" stroke="#ff0000" stroke-width="1.5"/>
<rect x="326.70" y="235.70" width="13.6" height="52.10" fill="#ff0000"/>
<line x1="333.50" y1="235.70" x2="333.50" y2="233.50" stroke="#ff0000" stroke-width="1.2"/>
<line x1="330.50" y1="233.50" x2="336.50" y2="233.50" stroke="#ff0000" stroke-width="1.5"/>
<rect x="359.90" y="237.90" width="13.6" height="49.90" fill="#ff0000"/>
<line x1="366.70" y1="237.90" x2="366.70" y2="235.70" stroke="#ff0000" stroke-width="1.2"/>
<line x1="363.70" y1="235.70" x2="369.70" y2="235.70" stroke="#ff0000" stroke-width="1.5"/>
<rect x="393.10" y="239.30" width="13.6" height="48.50" fill="#ff0000"/>
<line x1="399.90" y1="239.30" x2="399.90" y2="237.10" stroke="#ff0000" stroke-width="1.2"/>
<line x1="396.90" y1="237.10" x2="402.90" y2="237.10" stroke="#ff0000" stroke-width="1.5"/>
<rect x="426.30" y="241.20" width="13.6" height="46.60" fill="#ff0000"/>
<line x1="433.10" y1="241.20" x2="433.10" y2="239.00" stroke="#ff0000" stroke-width="1.2"/>
<line x1="430.10" y1="239.00" x2="436.10" y2="239.00" stroke="#ff0000" stroke-width="1.5"/>
<rect x="459.50" y="243.20" width="13.6" height="44.60" fill="#ff0000"/>
<line x1="466.30" y1="243.20" x2="466.30" y2="241.00" stroke="#ff0000" stroke-width="1.2"/>
<line x1="463.30" y1="241.00" x2="469.30" y2="241.00" stroke="#ff0000" stroke-width="1.5"/>
<line x1="52.0" y1="226.8" x2="481.5" y2="226.8" stroke="#5b8fd0" stroke-width="1.1" stroke-dasharray="5 2.5 1.5 2.5"/>
<rect x="52.0" y="160.3" width="429.5" height="127.5" fill="none" stroke="#2e2e2e" stroke-width="1.6"/>
<line x1="67.90" y1="287.80" x2="67.90" y2="290.30" stroke="#2e2e2e" stroke-width="1.4"/>
<text x="67.90" y="299.60" font-size="7.3" font-weight="bold" fill="#111" text-anchor="middle" textLength="10.20" lengthAdjust="spacingAndGlyphs" stroke="#111" stroke-width="0.15">0.0</text>
<line x1="101.10" y1="287.80" x2="101.10" y2="290.30" stroke="#2e2e2e" stroke-width="1.4"/>
<line x1="134.30" y1="287.80" x2="134.30" y2="290.30" stroke="#2e2e2e" stroke-width="1.4"/>
<text x="134.30" y="299.60" font-size="7.3" font-weight="bold" fill="#111" text-anchor="middle" textLength="17.00" lengthAdjust="spacingAndGlyphs" stroke="#111" stroke-width="0.15">20.0k</text>
<line x1="167.50" y1="287.80" x2="167.50" y2="290.30" stroke="#2e2e2e" stroke-width="1.4"/>
<line x1="200.70" y1="287.80" x2="200.70" y2="290.30" stroke="#2e2e2e" stroke-width="1.4"/>
<text x="200.70" y="299.60" font-size="7.3" font-weight="bold" fill="#111" text-anchor="middle" textLength="17.00" lengthAdjust="spacingAndGlyphs" stroke="#111" stroke-width="0.15">40.0k</text>
<line x1="233.90" y1="287.80" x2="233.90" y2="290.30" stroke="#2e2e2e" stroke-width="1.4"/>
<line x1="267.10" y1="287.80" x2="267.10" y2="290.30" stroke="#2e2e2e" stroke-width="1.4"/>
<text x="267.10" y="299.60" font-size="7.3" font-weight="bold" fill="#111" text-anchor="middle" textLength="17.00" lengthAdjust="spacingAndGlyphs" stroke="#111" stroke-width="0.15">60.0k</text>
<line x1="300.30" y1="287.80" x2="300.30" y2="290.30" stroke="#2e2e2e" stroke-width="1.4"/>
<line x1="333.50" y1="287.80" x2="333.50" y2="290.30" stroke="#2e2e2e" stroke-width="1.4"/>
<text x="333.50" y="299.60" font-size="7.3" font-weight="bold" fill="#111" text-anchor="middle" textLength="17.00" lengthAdjust="spacingAndGlyphs" stroke="#111" stroke-width="0.15">80.0k</text>
<line x1="366.70" y1="287.80" x2="366.70" y2="290.30" stroke="#2e2e2e" stroke-width="1.4"/>
<line x1="399.90" y1="287.80" x2="399.90" y2="290.30" stroke="#2e2e2e" stroke-width="1.4"/>
<text x="399.90" y="299.60" font-size="7.3" font-weight="bold" fill="#111" text-anchor="middle" textLength="21.80" lengthAdjust="spacingAndGlyphs" stroke="#111" stroke-width="0.15">100.0k</text>
<line x1="433.10" y1="287.80" x2="433.10" y2="290.30" stroke="#2e2e2e" stroke-width="1.4"/>
<line x1="466.30" y1="287.80" x2="466.30" y2="290.30" stroke="#2e2e2e" stroke-width="1.4"/>
<text x="466.30" y="299.60" font-size="7.3" font-weight="bold" fill="#111" text-anchor="middle" textLength="21.80" lengthAdjust="spacingAndGlyphs" stroke="#111" stroke-width="0.15">120.0k</text>
<line x1="52.00" y1="287.80" x2="49.20" y2="287.80" stroke="#2e2e2e" stroke-width="1.4"/>
<text x="47.00" y="290.30" font-size="7.0" font-weight="bold" fill="#111" text-anchor="end" textLength="9.60" lengthAdjust="spacingAndGlyphs" stroke="#111" stroke-width="0.15">0.0</text>
<line x1="52.00" y1="271.89" x2="50.20" y2="271.89" stroke="#2e2e2e" stroke-width="1.4"/>
<line x1="52.00" y1="255.98" x2="49.20" y2="255.98" stroke="#2e2e2e" stroke-width="1.4"/>
<text x="47.00" y="258.48" font-size="7.0" font-weight="bold" fill="#111" text-anchor="end" textLength="9.60" lengthAdjust="spacingAndGlyphs" stroke="#111" stroke-width="0.15">1.5</text>
<line x1="52.00" y1="240.06" x2="50.20" y2="240.06" stroke="#2e2e2e" stroke-width="1.4"/>
<line x1="52.00" y1="224.15" x2="49.20" y2="224.15" stroke="#2e2e2e" stroke-width="1.4"/>
<text x="47.00" y="226.65" font-size="7.0" font-weight="bold" fill="#111" text-anchor="end" textLength="9.60" lengthAdjust="spacingAndGlyphs" stroke="#111" stroke-width="0.15">3.0</text>
<line x1="52.00" y1="208.24" x2="50.20" y2="208.24" stroke="#2e2e2e" stroke-width="1.4"/>
<line x1="52.00" y1="192.32" x2="49.20" y2="192.32" stroke="#2e2e2e" stroke-width="1.4"/>
<text x="47.00" y="194.82" font-size="7.0" font-weight="bold" fill="#111" text-anchor="end" textLength="9.60" lengthAdjust="spacingAndGlyphs" stroke="#111" stroke-width="0.15">4.5</text>
<line x1="52.00" y1="176.41" x2="50.20" y2="176.41" stroke="#2e2e2e" stroke-width="1.4"/>
<line x1="52.00" y1="160.50" x2="49.20" y2="160.50" stroke="#2e2e2e" stroke-width="1.4"/>
<text x="47.00" y="163.00" font-size="7.0" font-weight="bold" fill="#111" text-anchor="end" textLength="9.60" lengthAdjust="spacingAndGlyphs" stroke="#111" stroke-width="0.15">6.0</text>
<text x="27.40" y="168.80" font-size="10.5" font-weight="bold" fill="#111" text-anchor="start" textLength="6.00" lengthAdjust="spacingAndGlyphs" stroke="#111" stroke-width="0.5">F</text>
<text x="224.80" y="307.20" font-size="7.7" font-weight="bold" fill="#111" text-anchor="start" textLength="96.20" lengthAdjust="spacingAndGlyphs" stroke="#111" stroke-width="0.15">Potential Cycling Numbers</text>
<text transform="translate(31.30,246.80) rotate(-90)" x="0" y="0" font-size="8.8" font-weight="bold" fill="#111" text-anchor="start" textLength="39.00" lengthAdjust="spacingAndGlyphs" stroke="#111" stroke-width="0.3">MA (A/mg</text>
<text transform="translate(34.20,207.60) rotate(-90)" x="0" y="0" font-size="5.0" font-weight="bold" fill="#111" text-anchor="start" textLength="5.60" lengthAdjust="spacingAndGlyphs" stroke="#111" stroke-width="0.15">Pt</text>
<text transform="translate(31.30,201.30) rotate(-90)" x="0" y="0" font-size="8.8" font-weight="bold" fill="#111" text-anchor="start" textLength="3.60" lengthAdjust="spacingAndGlyphs" stroke="#111" stroke-width="0.15">)</text>
<path d="M53.00,184.80 L53.00,182.20 Q53.00,180.70 54.50,180.70 L258.70,180.70 Q259.70,180.70 259.70,175.50 Q259.70,180.70 260.70,180.70 L464.80,180.70 Q466.30,180.70 466.30,182.20 L466.30,184.30" fill="none" stroke="#ff5050" stroke-width="1.1"/>
<path d="M53.20,205.00 L53.20,198.70 Q53.20,197.20 54.70,197.20 L140.20,197.20 Q141.20,197.20 141.20,190.50 Q141.20,197.20 142.20,197.20 L227.30,197.20 Q228.80,197.20 228.80,198.70 L228.80,203.40" fill="none" stroke="#30b0e8" stroke-width="1.1"/>
<path d="M53.40,212.80 L53.40,208.50 Q53.40,207.00 54.90,207.00 L92.70,207.00 Q93.70,207.00 93.70,202.20 Q93.70,207.00 94.70,207.00 L132.90,207.00 Q134.40,207.00 134.40,208.50 L134.40,211.90" fill="none" stroke="#404040" stroke-width="1.1"/>
<text x="139.90" y="213.90" font-size="9.4" font-weight="normal" fill="#3a3a3a" text-anchor="start" textLength="80.60" lengthAdjust="spacingAndGlyphs" stroke="#3a3a3a" stroke-width="0.25">Typical ADT range</text>
<text x="231.50" y="206.90" font-size="9.4" font-weight="normal" fill="#30b0e8" text-anchor="start" textLength="70.60" lengthAdjust="spacingAndGlyphs" stroke="#30b0e8" stroke-width="0.25">Rare ADT range</text>
<text x="327.60" y="195.60" font-size="9.4" font-weight="normal" fill="#ff3535" text-anchor="start" textLength="150.00" lengthAdjust="spacingAndGlyphs" stroke="#ff3535" stroke-width="0.25">Extended ADT range in this work</text>
<rect x="232" y="0" width="4" height="1.3" fill="#8a8a8a"/>
<rect x="251" y="0" width="3.5" height="1.3" fill="#8a8a8a"/>
<rect x="256" y="0" width="3.5" height="1.3" fill="#8a8a8a"/>
<rect x="261" y="0" width="3" height="1.3" fill="#8a8a8a"/>
<rect x="267.5" y="0" width="3.5" height="1.3" fill="#8a8a8a"/>
</svg>
</body></html>
